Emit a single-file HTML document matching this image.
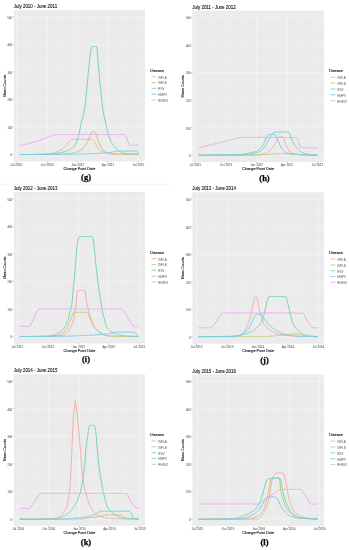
<!DOCTYPE html>
<html><head><meta charset="utf-8"><style>
html,body{margin:0;padding:0;background:#fff;}
body{width:349px;height:550px;overflow:hidden;}
svg{display:block;filter:blur(0.5px);font-family:"Liberation Sans", sans-serif;}
</style></head><body>
<svg width="349" height="550" viewBox="0 0 349 550">
<rect width="349" height="550" fill="#fff"/>
<line x1="0" x2="171" y1="184.3" y2="184.3" stroke="#EDEDED" stroke-width="0.6"/>
<g>
<text transform="translate(13.80 8.02) rotate(0.01)" font-size="4.45" fill="#111" stroke="#111" style="stroke-width:0.1px">July 2010 - June 2011</text>
<rect x="13.90" y="10.00" width="131.10" height="151.40" fill="#EBEBEB"/>
<line x1="13.90" x2="145.00" y1="140.74" y2="140.74" stroke="#fff" stroke-width="0.2"/>
<line x1="13.90" x2="145.00" y1="113.20" y2="113.20" stroke="#fff" stroke-width="0.2"/>
<line x1="13.90" x2="145.00" y1="85.67" y2="85.67" stroke="#fff" stroke-width="0.2"/>
<line x1="13.90" x2="145.00" y1="58.15" y2="58.15" stroke="#fff" stroke-width="0.2"/>
<line x1="13.90" x2="145.00" y1="30.62" y2="30.62" stroke="#fff" stroke-width="0.2"/>
<line x1="31.75" x2="31.75" y1="10.00" y2="161.40" stroke="#fff" stroke-width="0.2"/>
<line x1="62.45" x2="62.45" y1="10.00" y2="161.40" stroke="#fff" stroke-width="0.2"/>
<line x1="92.82" x2="92.82" y1="10.00" y2="161.40" stroke="#fff" stroke-width="0.2"/>
<line x1="123.02" x2="123.02" y1="10.00" y2="161.40" stroke="#fff" stroke-width="0.2"/>
<line x1="13.90" x2="145.00" y1="154.50" y2="154.50" stroke="#fff" stroke-width="0.35"/>
<line x1="13.90" x2="145.00" y1="126.97" y2="126.97" stroke="#fff" stroke-width="0.35"/>
<line x1="13.90" x2="145.00" y1="99.44" y2="99.44" stroke="#fff" stroke-width="0.35"/>
<line x1="13.90" x2="145.00" y1="71.91" y2="71.91" stroke="#fff" stroke-width="0.35"/>
<line x1="13.90" x2="145.00" y1="44.38" y2="44.38" stroke="#fff" stroke-width="0.35"/>
<line x1="13.90" x2="145.00" y1="16.85" y2="16.85" stroke="#fff" stroke-width="0.35"/>
<line x1="16.40" x2="16.40" y1="10.00" y2="161.40" stroke="#fff" stroke-width="0.35"/>
<line x1="47.10" x2="47.10" y1="10.00" y2="161.40" stroke="#fff" stroke-width="0.35"/>
<line x1="77.80" x2="77.80" y1="10.00" y2="161.40" stroke="#fff" stroke-width="0.35"/>
<line x1="107.83" x2="107.83" y1="10.00" y2="161.40" stroke="#fff" stroke-width="0.35"/>
<line x1="138.20" x2="138.20" y1="10.00" y2="161.40" stroke="#fff" stroke-width="0.35"/>
<path d="M19.7 154.5 L20.4 154.5 L21.0 154.5 L21.6 154.5 L22.2 154.5 L22.8 154.5 L23.4 154.5 L24.0 154.5 L24.7 154.5 L25.3 154.5 L25.9 154.5 L26.5 154.5 L27.1 154.5 L27.7 154.5 L28.3 154.5 L28.9 154.5 L29.6 154.5 L30.2 154.5 L30.8 154.5 L31.4 154.5 L32.0 154.5 L32.6 154.5 L33.2 154.4 L33.9 154.4 L34.5 154.4 L35.1 154.4 L35.7 154.4 L36.3 154.4 L36.9 154.4 L37.5 154.4 L38.2 154.4 L38.8 154.4 L39.4 154.4 L40.0 154.4 L40.6 154.4 L41.2 154.4 L41.8 154.4 L42.4 154.3 L43.0 154.3 L43.6 154.3 L44.2 154.2 L44.9 154.2 L45.5 154.1 L46.1 154.1 L46.7 154.0 L47.3 154.0 L47.9 153.9 L48.5 153.9 L49.1 153.8 L49.7 153.7 L50.4 153.6 L51.0 153.5 L51.6 153.4 L52.3 153.2 L52.9 153.1 L53.6 152.9 L54.2 152.7 L54.8 152.5 L55.5 152.3 L56.1 152.1 L56.7 151.9 L57.3 151.7 L57.9 151.4 L58.5 151.1 L59.1 150.9 L59.7 150.5 L60.3 150.2 L60.9 149.9 L61.5 149.5 L62.1 149.1 L62.8 148.6 L63.5 148.0 L64.2 147.3 L64.8 146.6 L65.5 145.9 L66.2 145.1 L66.8 144.3 L67.4 143.4 L68.0 142.5 L68.6 141.7 L69.2 141.1 L69.8 140.7 L70.4 140.3 L71.0 139.9 L71.6 139.7 L72.2 139.5 L73.1 139.4 L74.0 139.3 L74.6 139.3 L75.2 139.3 L75.9 139.3 L76.5 139.3 L77.1 139.3 L77.7 139.3 L78.4 139.3 L79.0 139.3 L79.6 139.3 L80.2 139.3 L80.8 139.3 L81.5 139.3 L82.1 139.3 L82.7 139.3 L83.3 139.3 L84.0 139.3 L84.6 139.3 L85.2 139.3 L85.8 139.3 L86.4 139.3 L87.1 139.3 L87.7 139.3 L88.3 139.3 L88.9 139.3 L89.6 139.3 L90.2 139.3 L90.8 139.3 L91.5 139.5 L92.1 139.9 L92.8 140.5 L93.4 141.3 L94.1 142.0 L94.7 142.8 L95.3 143.7 L95.9 144.7 L96.5 145.7 L97.1 146.6 L97.7 147.4 L98.3 148.2 L98.9 148.9 L99.5 149.6 L100.1 150.1 L100.8 150.5 L101.4 150.9 L102.1 151.2 L102.8 151.5 L103.4 151.8 L104.1 152.1 L104.8 152.4 L105.4 152.8 L106.0 153.1 L106.7 153.4 L107.3 153.6 L108.0 153.8 L108.6 153.9 L109.3 154.0 L109.9 154.1 L110.5 154.1 L111.2 154.2 L111.8 154.3 L112.5 154.3 L113.1 154.3 L113.7 154.4 L114.4 154.4 L115.0 154.4 L115.6 154.4 L116.2 154.4 L116.8 154.4 L117.4 154.4 L118.0 154.4 L118.6 154.4 L119.2 154.4 L119.8 154.4 L120.4 154.4 L121.0 154.4 L121.6 154.4 L122.2 154.4 L122.9 154.5 L123.5 154.5 L124.1 154.5 L124.7 154.5 L125.3 154.5 L125.9 154.5 L126.5 154.5 L127.1 154.5 L127.7 154.5 L128.3 154.5 L128.9 154.5 L129.5 154.5 L130.1 154.5 L130.7 154.5 L131.3 154.5 L131.9 154.5 L132.5 154.5 L133.1 154.5 L133.7 154.5 L134.3 154.5 L134.9 154.5 L135.5 154.5 L136.1 154.5 L136.7 154.5 L137.4 154.5 L138.0 154.5 L138.6 154.5" fill="none" stroke="#F2B0AC" stroke-width="1.0" stroke-linejoin="round"/>
<path d="M19.7 154.5 L20.3 154.5 L20.9 154.5 L21.5 154.5 L22.1 154.5 L22.7 154.5 L23.3 154.5 L23.9 154.5 L24.5 154.5 L25.1 154.5 L25.7 154.5 L26.3 154.5 L27.0 154.5 L27.6 154.5 L28.2 154.5 L28.8 154.5 L29.4 154.5 L30.0 154.5 L30.6 154.5 L31.2 154.5 L31.8 154.5 L32.4 154.5 L33.0 154.5 L33.6 154.5 L34.2 154.4 L34.8 154.4 L35.4 154.4 L36.0 154.4 L36.6 154.4 L37.2 154.4 L37.8 154.4 L38.4 154.4 L39.0 154.4 L39.6 154.4 L40.2 154.4 L40.8 154.4 L41.4 154.4 L42.0 154.4 L42.6 154.4 L43.2 154.4 L43.8 154.4 L44.4 154.4 L45.0 154.4 L45.6 154.4 L46.2 154.4 L46.8 154.4 L47.4 154.4 L48.0 154.4 L48.6 154.4 L49.2 154.4 L49.8 154.4 L50.4 154.4 L51.0 154.4 L51.6 154.4 L52.2 154.4 L52.8 154.4 L53.4 154.4 L54.0 154.4 L54.6 154.4 L55.2 154.3 L55.8 154.3 L56.4 154.3 L57.0 154.3 L57.6 154.3 L58.2 154.3 L58.8 154.3 L59.4 154.3 L60.0 154.3 L60.6 154.3 L61.2 154.3 L61.9 154.3 L62.5 154.2 L63.1 154.2 L63.8 154.2 L64.4 154.1 L65.0 154.1 L65.6 154.0 L66.2 154.0 L66.9 153.9 L67.5 153.9 L68.1 153.8 L68.8 153.7 L69.4 153.7 L70.0 153.6 L70.6 153.5 L71.2 153.4 L71.9 153.3 L72.5 153.2 L73.1 153.1 L73.8 152.9 L74.4 152.8 L75.0 152.6 L75.6 152.4 L76.2 152.2 L76.9 152.0 L77.5 151.8 L78.1 151.5 L78.8 151.2 L79.4 150.9 L80.0 150.6 L80.6 150.2 L81.2 149.8 L81.9 149.3 L82.5 148.8 L83.1 148.2 L83.8 147.5 L84.4 146.8 L85.0 146.1 L85.6 145.3 L86.2 144.4 L86.8 143.3 L87.4 142.2 L88.0 141.0 L88.7 139.5 L89.3 137.7 L90.0 136.0 L90.8 134.0 L91.5 132.5 L92.2 131.8 L93.0 131.5 L93.7 131.6 L94.3 132.0 L95.0 132.5 L95.8 133.9 L96.6 136.0 L97.3 137.8 L97.9 139.7 L98.6 141.5 L99.2 143.0 L99.8 144.5 L100.5 145.8 L101.1 147.0 L101.7 148.0 L102.3 148.9 L102.9 149.7 L103.5 150.4 L104.1 150.9 L104.8 151.3 L105.4 151.7 L106.1 152.0 L106.8 152.2 L107.4 152.4 L108.1 152.6 L108.7 152.8 L109.4 152.9 L110.0 153.1 L110.6 153.2 L111.2 153.3 L111.9 153.4 L112.5 153.6 L113.1 153.6 L113.7 153.7 L114.4 153.8 L115.0 153.8 L115.6 153.8 L116.2 153.8 L116.8 153.9 L117.4 153.9 L118.0 153.9 L118.6 153.9 L119.2 153.9 L119.8 153.9 L120.4 154.0 L121.0 154.0 L121.6 154.0 L122.2 154.0 L122.9 154.0 L123.5 154.0 L124.1 154.0 L124.7 154.0 L125.3 154.0 L125.9 154.0 L126.5 154.1 L127.1 154.1 L127.7 154.1 L128.3 154.1 L128.9 154.1 L129.5 154.1 L130.1 154.1 L130.7 154.1 L131.3 154.1 L131.9 154.1 L132.5 154.1 L133.1 154.1 L133.7 154.1 L134.3 154.1 L134.9 154.1 L135.5 154.2 L136.1 154.2 L136.7 154.2 L137.4 154.2 L138.0 154.2 L138.6 154.2" fill="none" stroke="#C7C876" stroke-width="1.0" stroke-linejoin="round"/>
<path d="M19.7 154.5 L20.3 154.5 L20.9 154.5 L21.5 154.5 L22.1 154.5 L22.7 154.5 L23.3 154.5 L23.9 154.5 L24.6 154.5 L25.2 154.5 L25.8 154.5 L26.4 154.5 L27.0 154.5 L27.6 154.5 L28.2 154.5 L28.8 154.5 L29.4 154.5 L30.0 154.5 L30.6 154.5 L31.2 154.5 L31.8 154.5 L32.4 154.5 L33.0 154.5 L33.6 154.5 L34.2 154.5 L34.8 154.5 L35.4 154.5 L36.0 154.5 L36.6 154.4 L37.2 154.4 L37.8 154.4 L38.4 154.4 L39.0 154.4 L39.6 154.4 L40.2 154.4 L40.8 154.4 L41.4 154.4 L42.0 154.4 L42.6 154.4 L43.2 154.4 L43.8 154.4 L44.4 154.4 L45.0 154.4 L45.6 154.4 L46.2 154.4 L46.9 154.4 L47.5 154.3 L48.1 154.3 L48.7 154.3 L49.4 154.2 L50.0 154.2 L50.6 154.1 L51.2 154.0 L51.9 154.0 L52.5 153.9 L53.1 153.8 L53.7 153.8 L54.4 153.7 L55.0 153.6 L55.6 153.5 L56.2 153.5 L56.9 153.4 L57.5 153.3 L58.1 153.2 L58.7 153.1 L59.3 153.0 L60.0 152.9 L60.6 152.7 L61.2 152.6 L61.8 152.4 L62.5 152.3 L63.1 152.1 L63.7 151.9 L64.3 151.7 L65.0 151.5 L65.6 151.3 L66.2 151.1 L66.8 150.9 L67.4 150.7 L68.0 150.4 L68.6 150.2 L69.2 149.9 L69.8 149.6 L70.4 149.3 L71.0 148.9 L71.6 148.5 L72.2 148.1 L72.9 147.6 L73.5 146.9 L74.2 146.2 L74.9 145.3 L75.5 144.3 L76.2 143.1 L76.8 141.7 L77.4 139.7 L78.0 137.4 L78.6 135.0 L79.2 132.5 L80.0 129.2 L80.7 125.5 L81.5 122.0 L82.2 119.1 L83.0 116.4 L83.7 113.5 L84.4 110.0 L85.1 105.7 L85.7 100.2 L86.4 93.8 L87.0 86.8 L87.7 79.6 L88.3 72.5 L89.0 65.7 L89.6 59.6 L90.3 54.5 L90.9 50.3 L91.5 47.5 L91.8 46.8 L92.2 46.5 L92.9 46.5 L93.5 46.5 L94.2 46.5 L94.8 46.5 L95.5 46.5 L96.1 46.5 L96.8 46.5 L97.2 49.5 L97.5 54.5 L98.1 61.3 L98.7 68.2 L99.3 75.2 L99.9 82.0 L100.6 88.6 L101.2 94.9 L101.8 100.6 L102.4 105.7 L103.0 110.0 L103.7 114.2 L104.5 117.7 L105.2 121.0 L105.8 123.9 L106.5 126.7 L107.1 129.4 L107.7 132.0 L108.6 135.4 L109.4 138.2 L110.1 139.8 L110.8 141.2 L111.5 142.5 L112.2 143.5 L112.9 144.5 L113.5 145.3 L114.2 146.2 L114.8 146.9 L115.5 147.7 L116.1 148.4 L116.7 149.0 L117.4 149.6 L118.0 150.1 L118.7 150.6 L119.3 151.0 L120.0 151.4 L120.6 151.7 L121.2 152.0 L121.9 152.3 L122.5 152.6 L123.2 152.9 L123.8 153.1 L124.5 153.3 L125.1 153.4 L125.8 153.5 L126.4 153.6 L127.0 153.6 L127.6 153.7 L128.2 153.7 L128.8 153.8 L129.4 153.8 L130.1 153.8 L130.7 153.9 L131.3 153.9 L131.9 153.9 L132.5 153.9 L133.1 154.0 L133.7 154.0 L134.3 154.0 L134.9 154.0 L135.5 154.1 L136.1 154.1 L136.7 154.1 L137.3 154.1 L138.0 154.2 L138.6 154.2" fill="none" stroke="#76D5B4" stroke-width="1.0" stroke-linejoin="round"/>
<path d="M19.7 154.5 L20.3 154.5 L21.0 154.5 L21.6 154.5 L22.2 154.5 L22.8 154.5 L23.4 154.5 L24.0 154.5 L24.6 154.5 L25.2 154.5 L25.8 154.5 L26.4 154.5 L27.0 154.5 L27.6 154.5 L28.2 154.5 L28.8 154.5 L29.4 154.5 L30.0 154.5 L30.6 154.5 L31.2 154.5 L31.9 154.5 L32.5 154.5 L33.1 154.5 L33.7 154.5 L34.3 154.5 L34.9 154.5 L35.5 154.4 L36.1 154.4 L36.7 154.4 L37.3 154.4 L37.9 154.4 L38.5 154.4 L39.1 154.4 L39.7 154.4 L40.3 154.4 L40.9 154.4 L41.5 154.4 L42.1 154.4 L42.8 154.4 L43.4 154.4 L44.0 154.4 L44.6 154.4 L45.2 154.4 L45.8 154.4 L46.4 154.4 L47.0 154.4 L47.6 154.4 L48.2 154.4 L48.8 154.4 L49.4 154.4 L50.0 154.4 L50.6 154.4 L51.2 154.4 L51.8 154.4 L52.4 154.4 L53.0 154.4 L53.7 154.4 L54.3 154.4 L54.9 154.4 L55.5 154.4 L56.1 154.4 L56.7 154.4 L57.3 154.4 L57.9 154.4 L58.5 154.4 L59.1 154.4 L59.7 154.4 L60.3 154.4 L60.9 154.4 L61.5 154.4 L62.1 154.4 L62.7 154.3 L63.3 154.3 L63.9 154.3 L64.6 154.3 L65.2 154.3 L65.8 154.3 L66.4 154.3 L67.0 154.3 L67.6 154.3 L68.2 154.3 L68.8 154.3 L69.4 154.3 L70.0 154.3 L70.6 154.3 L71.2 154.3 L71.8 154.3 L72.4 154.3 L73.0 154.3 L73.6 154.3 L74.2 154.2 L74.8 154.2 L75.5 154.2 L76.1 154.2 L76.7 154.2 L77.3 154.2 L77.9 154.2 L78.5 154.2 L79.1 154.1 L79.7 154.1 L80.3 154.1 L80.9 154.1 L81.5 154.1 L82.1 154.1 L82.7 154.0 L83.3 154.0 L83.9 154.0 L84.5 154.0 L85.2 154.0 L85.8 153.9 L86.4 153.9 L87.0 153.9 L87.6 153.9 L88.2 153.9 L88.8 153.8 L89.4 153.8 L90.0 153.8 L90.6 153.8 L91.2 153.8 L91.9 153.7 L92.5 153.7 L93.1 153.7 L93.8 153.6 L94.4 153.6 L95.0 153.6 L95.6 153.6 L96.2 153.5 L96.9 153.5 L97.5 153.4 L98.1 153.4 L98.8 153.4 L99.4 153.3 L100.0 153.3 L100.6 153.3 L101.2 153.2 L101.9 153.2 L102.5 153.1 L103.1 153.1 L103.8 153.1 L104.4 153.0 L105.0 153.0 L105.6 152.9 L106.2 152.9 L106.9 152.8 L107.5 152.8 L108.1 152.7 L108.8 152.6 L109.4 152.6 L110.0 152.5 L110.6 152.4 L111.2 152.3 L111.9 152.2 L112.5 152.0 L113.1 151.8 L113.7 151.7 L114.3 151.5 L114.9 151.4 L115.6 151.3 L116.2 151.2 L116.8 151.2 L117.4 151.2 L118.0 151.2 L118.6 151.2 L119.2 151.2 L119.8 151.1 L120.4 151.1 L121.0 151.1 L121.6 151.1 L122.3 151.1 L122.9 151.1 L123.5 151.1 L124.1 151.1 L124.7 151.1 L125.3 151.1 L125.9 151.1 L126.5 151.0 L127.1 151.0 L127.7 151.0 L128.3 151.0 L128.9 151.0 L129.5 151.0 L130.1 151.0 L130.7 151.0 L131.3 151.0 L131.9 151.0 L132.6 151.0 L133.2 151.0 L133.8 151.0 L134.4 151.0 L135.0 151.0 L135.6 151.0 L136.2 151.0 L136.8 151.0 L137.4 151.0 L138.0 152.2 L138.6 154.3" fill="none" stroke="#76CEF0" stroke-width="1.0" stroke-linejoin="round"/>
<path d="M19.7 145.6 L20.3 145.5 L20.9 145.3 L21.6 145.2 L22.2 145.0 L22.8 144.9 L23.4 144.8 L24.0 144.6 L24.6 144.5 L25.2 144.4 L25.8 144.2 L26.4 144.1 L27.0 144.0 L27.6 143.8 L28.2 143.7 L28.8 143.5 L29.4 143.4 L30.0 143.2 L30.6 143.0 L31.2 142.9 L31.9 142.7 L32.5 142.5 L33.1 142.3 L33.8 142.1 L34.4 141.9 L35.0 141.7 L35.6 141.5 L36.2 141.3 L36.9 141.1 L37.5 140.9 L38.1 140.7 L38.8 140.5 L39.4 140.3 L40.0 140.1 L40.6 139.9 L41.2 139.7 L41.9 139.5 L42.5 139.2 L43.1 139.0 L43.8 138.8 L44.4 138.6 L45.0 138.4 L45.6 138.1 L46.2 137.9 L46.9 137.7 L47.5 137.4 L48.1 137.2 L48.8 137.0 L49.4 136.7 L50.0 136.5 L50.6 136.3 L51.3 136.0 L51.9 135.8 L52.5 135.5 L53.2 135.3 L53.8 135.0 L54.5 134.8 L55.1 134.5 L55.7 134.5 L56.3 134.5 L56.9 134.5 L57.5 134.5 L58.1 134.5 L58.7 134.5 L59.3 134.5 L59.9 134.5 L60.5 134.5 L61.1 134.5 L61.7 134.5 L62.3 134.5 L62.9 134.5 L63.5 134.5 L64.2 134.5 L64.8 134.5 L65.4 134.5 L66.0 134.5 L66.6 134.5 L67.2 134.5 L67.8 134.5 L68.4 134.5 L69.0 134.5 L69.6 134.5 L70.2 134.5 L70.8 134.5 L71.4 134.5 L72.0 134.5 L72.6 134.5 L73.2 134.5 L73.8 134.5 L74.4 134.5 L75.0 134.5 L75.6 134.5 L76.2 134.5 L76.8 134.5 L77.4 134.5 L78.0 134.5 L78.6 134.5 L79.2 134.5 L79.8 134.5 L80.4 134.5 L81.0 134.5 L81.7 134.5 L82.3 134.5 L82.9 134.5 L83.5 134.5 L84.1 134.5 L84.7 134.5 L85.3 134.5 L85.9 134.5 L86.5 134.5 L87.1 134.5 L87.7 134.5 L88.3 134.5 L88.9 134.5 L89.5 134.5 L90.1 134.5 L90.7 134.5 L91.3 134.5 L91.9 134.5 L92.5 134.5 L93.1 134.5 L93.7 134.5 L94.3 134.5 L94.9 134.5 L95.5 134.5 L96.1 134.5 L96.7 134.5 L97.3 134.5 L97.9 134.5 L98.6 134.5 L99.2 134.5 L99.8 134.5 L100.4 134.5 L101.0 134.5 L101.6 134.5 L102.2 134.5 L102.8 134.5 L103.4 134.5 L104.0 134.5 L104.6 134.5 L105.2 134.5 L105.8 134.5 L106.4 134.5 L107.0 134.5 L107.6 134.5 L108.2 134.5 L108.8 134.5 L109.4 134.5 L110.0 134.5 L110.6 134.5 L111.2 134.5 L111.8 134.5 L112.4 134.5 L113.0 134.5 L113.6 134.5 L114.2 134.5 L114.8 134.5 L115.4 134.5 L116.1 134.5 L116.7 134.5 L117.3 134.5 L117.9 134.5 L118.5 134.5 L119.1 134.5 L119.7 134.5 L120.3 134.5 L120.9 134.5 L121.5 134.5 L122.1 134.5 L122.7 134.5 L123.3 134.5 L123.9 134.5 L124.5 134.5 L125.0 134.8 L125.5 135.3 L126.1 136.3 L126.8 137.9 L127.4 139.7 L128.0 141.5 L128.7 143.1 L129.3 144.2 L129.8 144.8 L130.3 145.1 L130.9 145.1 L131.6 145.1 L132.2 145.1 L132.8 145.1 L133.5 145.1 L134.1 145.1 L134.7 145.1 L135.4 145.1 L136.0 145.1 L136.7 145.1 L137.3 145.1 L137.9 145.1 L138.6 145.1" fill="none" stroke="#E9ABEF" stroke-width="1.0" stroke-linejoin="round"/>
<line x1="12.50" x2="13.90" y1="154.50" y2="154.50" stroke="#333" stroke-width="0.3"/>
<text transform="translate(11.90 156.02) rotate(0.01)" font-size="2.6" fill="#707070" stroke="#707070" style="stroke-width:0.08px" text-anchor="end">0</text>
<line x1="12.50" x2="13.90" y1="126.97" y2="126.97" stroke="#333" stroke-width="0.3"/>
<text transform="translate(11.90 129.02) rotate(0.01)" font-size="2.6" fill="#707070" stroke="#707070" style="stroke-width:0.08px" text-anchor="end">100</text>
<line x1="12.50" x2="13.90" y1="99.44" y2="99.44" stroke="#333" stroke-width="0.3"/>
<text transform="translate(11.90 101.02) rotate(0.01)" font-size="2.6" fill="#707070" stroke="#707070" style="stroke-width:0.08px" text-anchor="end">200</text>
<line x1="12.50" x2="13.90" y1="71.91" y2="71.91" stroke="#333" stroke-width="0.3"/>
<text transform="translate(11.90 74.02) rotate(0.01)" font-size="2.6" fill="#707070" stroke="#707070" style="stroke-width:0.08px" text-anchor="end">300</text>
<line x1="12.50" x2="13.90" y1="44.38" y2="44.38" stroke="#333" stroke-width="0.3"/>
<text transform="translate(11.90 46.02) rotate(0.01)" font-size="2.6" fill="#707070" stroke="#707070" style="stroke-width:0.08px" text-anchor="end">400</text>
<line x1="12.50" x2="13.90" y1="16.85" y2="16.85" stroke="#333" stroke-width="0.3"/>
<text transform="translate(11.90 19.02) rotate(0.01)" font-size="2.6" fill="#707070" stroke="#707070" style="stroke-width:0.08px" text-anchor="end">500</text>
<line x1="16.40" x2="16.40" y1="161.40" y2="162.70" stroke="#333" stroke-width="0.3"/>
<text transform="translate(16.40 166.02) rotate(0.01)" font-size="3.1" fill="#707070" stroke="#707070" style="stroke-width:0.08px" text-anchor="middle">Jul 2010</text>
<line x1="47.10" x2="47.10" y1="161.40" y2="162.70" stroke="#333" stroke-width="0.3"/>
<text transform="translate(47.10 166.02) rotate(0.01)" font-size="3.1" fill="#707070" stroke="#707070" style="stroke-width:0.08px" text-anchor="middle">Oct 2010</text>
<line x1="77.80" x2="77.80" y1="161.40" y2="162.70" stroke="#333" stroke-width="0.3"/>
<text transform="translate(77.80 166.02) rotate(0.01)" font-size="3.1" fill="#707070" stroke="#707070" style="stroke-width:0.08px" text-anchor="middle">Jan 2011</text>
<line x1="107.83" x2="107.83" y1="161.40" y2="162.70" stroke="#333" stroke-width="0.3"/>
<text transform="translate(107.83 166.02) rotate(0.01)" font-size="3.1" fill="#707070" stroke="#707070" style="stroke-width:0.08px" text-anchor="middle">Apr 2011</text>
<line x1="138.20" x2="138.20" y1="161.40" y2="162.70" stroke="#333" stroke-width="0.3"/>
<text transform="translate(138.20 166.02) rotate(0.01)" font-size="3.1" fill="#707070" stroke="#707070" style="stroke-width:0.08px" text-anchor="middle">Jul 2011</text>
<text transform="translate(79.45 170.02) rotate(0.01)" font-size="3.75" fill="#000" stroke="#000" style="stroke-width:0.08px" text-anchor="middle">Change Point Date</text>
<text transform="translate(6.02 85.70) rotate(-89.99)" font-size="3.75" fill="#000" stroke="#000" style="stroke-width:0.08px" text-anchor="middle">Mean Counts</text>
<text transform="translate(150.20 72.02) rotate(0.01)" font-size="3.75" fill="#000" stroke="#000" style="stroke-width:0.08px">Disease</text>
<line x1="151.50" x2="156.30" y1="76.70" y2="76.70" stroke="#F0BFBB" stroke-width="1.1"/>
<text transform="translate(158.30 79.02) rotate(0.01)" font-size="3.0" fill="#555">INFLA</text>
<line x1="151.50" x2="156.30" y1="82.53" y2="82.53" stroke="#D0D092" stroke-width="1.1"/>
<text transform="translate(158.30 84.02) rotate(0.01)" font-size="3.0" fill="#555">INFLB</text>
<line x1="151.50" x2="156.30" y1="88.36" y2="88.36" stroke="#92DAC1" stroke-width="1.1"/>
<text transform="translate(158.30 90.02) rotate(0.01)" font-size="3.0" fill="#555">RSV</text>
<line x1="151.50" x2="156.30" y1="94.19" y2="94.19" stroke="#92D5EF" stroke-width="1.1"/>
<text transform="translate(158.30 96.02) rotate(0.01)" font-size="3.0" fill="#555">HMPV</text>
<line x1="151.50" x2="156.30" y1="100.02" y2="100.02" stroke="#E9BAEE" stroke-width="1.1"/>
<text transform="translate(158.30 102.02) rotate(0.01)" font-size="3.0" fill="#555">RHINO</text>
<text transform="translate(86.00 180.02) rotate(0)" font-size="8.5" fill="#000" stroke="#000" style="stroke-width:0.25px" text-anchor="middle" font-family="Liberation Serif, serif" font-weight="bold">(g)</text>
</g>
<g>
<text transform="translate(192.30 9.02) rotate(0.01)" font-size="4.45" fill="#111" stroke="#111" style="stroke-width:0.1px">July 2011 - June 2012</text>
<rect x="192.40" y="10.60" width="131.60" height="151.40" fill="#EBEBEB"/>
<line x1="192.40" x2="324.00" y1="141.34" y2="141.34" stroke="#fff" stroke-width="0.2"/>
<line x1="192.40" x2="324.00" y1="113.80" y2="113.80" stroke="#fff" stroke-width="0.2"/>
<line x1="192.40" x2="324.00" y1="86.27" y2="86.27" stroke="#fff" stroke-width="0.2"/>
<line x1="192.40" x2="324.00" y1="58.75" y2="58.75" stroke="#fff" stroke-width="0.2"/>
<line x1="192.40" x2="324.00" y1="31.22" y2="31.22" stroke="#fff" stroke-width="0.2"/>
<line x1="210.65" x2="210.65" y1="10.60" y2="162.00" stroke="#fff" stroke-width="0.2"/>
<line x1="241.35" x2="241.35" y1="10.60" y2="162.00" stroke="#fff" stroke-width="0.2"/>
<line x1="271.88" x2="271.88" y1="10.60" y2="162.00" stroke="#fff" stroke-width="0.2"/>
<line x1="302.25" x2="302.25" y1="10.60" y2="162.00" stroke="#fff" stroke-width="0.2"/>
<line x1="192.40" x2="324.00" y1="155.10" y2="155.10" stroke="#fff" stroke-width="0.35"/>
<line x1="192.40" x2="324.00" y1="127.57" y2="127.57" stroke="#fff" stroke-width="0.35"/>
<line x1="192.40" x2="324.00" y1="100.04" y2="100.04" stroke="#fff" stroke-width="0.35"/>
<line x1="192.40" x2="324.00" y1="72.51" y2="72.51" stroke="#fff" stroke-width="0.35"/>
<line x1="192.40" x2="324.00" y1="44.98" y2="44.98" stroke="#fff" stroke-width="0.35"/>
<line x1="192.40" x2="324.00" y1="17.45" y2="17.45" stroke="#fff" stroke-width="0.35"/>
<line x1="195.30" x2="195.30" y1="10.60" y2="162.00" stroke="#fff" stroke-width="0.35"/>
<line x1="226.00" x2="226.00" y1="10.60" y2="162.00" stroke="#fff" stroke-width="0.35"/>
<line x1="256.70" x2="256.70" y1="10.60" y2="162.00" stroke="#fff" stroke-width="0.35"/>
<line x1="287.07" x2="287.07" y1="10.60" y2="162.00" stroke="#fff" stroke-width="0.35"/>
<line x1="317.43" x2="317.43" y1="10.60" y2="162.00" stroke="#fff" stroke-width="0.35"/>
<path d="M198.5 155.2 L199.1 155.2 L199.7 155.2 L200.3 155.2 L200.9 155.2 L201.5 155.2 L202.1 155.2 L202.7 155.2 L203.3 155.2 L203.9 155.2 L204.5 155.2 L205.1 155.2 L205.7 155.2 L206.3 155.2 L206.9 155.2 L207.5 155.2 L208.1 155.2 L208.7 155.2 L209.3 155.2 L209.9 155.2 L210.5 155.2 L211.1 155.2 L211.7 155.2 L212.3 155.2 L212.9 155.2 L213.5 155.2 L214.1 155.2 L214.7 155.2 L215.3 155.2 L215.9 155.2 L216.5 155.2 L217.1 155.2 L217.7 155.2 L218.3 155.2 L218.9 155.2 L219.5 155.2 L220.1 155.2 L220.7 155.2 L221.3 155.1 L221.9 155.1 L222.5 155.1 L223.1 155.1 L223.7 155.1 L224.3 155.1 L224.9 155.1 L225.5 155.1 L226.1 155.1 L226.8 155.1 L227.4 155.1 L228.0 155.1 L228.6 155.1 L229.2 155.1 L229.8 155.1 L230.4 155.1 L231.0 155.1 L231.6 155.1 L232.2 155.1 L232.8 155.1 L233.4 155.1 L234.0 155.1 L234.6 155.1 L235.2 155.1 L235.8 155.1 L236.4 155.1 L237.0 155.1 L237.6 155.1 L238.2 155.1 L238.8 155.1 L239.4 155.1 L240.0 155.1 L240.6 155.1 L241.2 155.1 L241.8 155.1 L242.4 155.1 L243.0 155.1 L243.6 155.1 L244.2 155.1 L244.8 155.1 L245.4 155.1 L246.0 155.1 L246.6 155.1 L247.2 155.1 L247.8 155.1 L248.4 155.1 L249.0 155.0 L249.6 155.0 L250.2 155.0 L250.8 155.0 L251.4 155.0 L252.0 155.0 L252.6 155.0 L253.2 155.0 L253.8 155.0 L254.4 155.0 L255.0 155.0 L255.6 155.0 L256.2 154.9 L256.8 154.9 L257.4 154.8 L258.0 154.7 L258.6 154.6 L259.3 154.5 L259.9 154.4 L260.5 154.3 L261.1 154.2 L261.7 154.1 L262.3 153.9 L262.9 153.8 L263.5 153.7 L264.1 153.5 L264.7 153.4 L265.4 153.2 L266.0 153.0 L266.6 152.8 L267.2 152.5 L267.8 152.2 L268.4 151.7 L269.0 151.2 L269.7 150.6 L270.3 149.9 L270.9 149.3 L271.5 148.6 L272.1 147.9 L272.8 147.1 L273.5 146.2 L274.1 145.2 L275.0 143.6 L275.8 141.8 L276.6 139.9 L277.5 138.3 L278.4 137.0 L279.2 136.4 L279.8 136.4 L280.4 136.4 L281.1 136.4 L281.7 136.4 L282.3 136.4 L283.0 137.2 L283.8 139.0 L284.5 141.2 L285.2 143.2 L285.8 144.6 L286.4 146.0 L287.1 147.3 L287.7 148.4 L288.4 149.4 L289.0 150.3 L289.6 151.1 L290.3 151.9 L291.0 152.5 L291.6 152.9 L292.2 153.2 L292.9 153.5 L293.6 153.7 L294.2 154.0 L294.9 154.2 L295.5 154.3 L296.2 154.4 L296.8 154.5 L297.4 154.5 L298.0 154.6 L298.6 154.6 L299.3 154.7 L299.9 154.7 L300.5 154.7 L301.1 154.8 L301.7 154.8 L302.3 154.8 L302.9 154.9 L303.6 154.9 L304.2 154.9 L304.8 154.9 L305.4 155.0 L306.0 155.0 L306.6 155.0 L307.2 155.0 L307.9 155.0 L308.5 155.0 L309.1 155.1 L309.7 155.1 L310.3 155.1 L310.9 155.1 L311.6 155.1 L312.2 155.1 L312.8 155.1 L313.4 155.2 L314.0 155.2 L314.6 155.2 L315.2 155.2 L315.9 155.2 L316.5 155.3 L317.1 155.3 L317.7 155.3" fill="none" stroke="#F2B0AC" stroke-width="1.0" stroke-linejoin="round"/>
<path d="M198.5 155.2 L199.1 155.2 L199.7 155.2 L200.3 155.2 L200.9 155.2 L201.5 155.2 L202.1 155.2 L202.7 155.2 L203.3 155.2 L204.0 155.2 L204.6 155.2 L205.2 155.2 L205.8 155.2 L206.4 155.2 L207.0 155.2 L207.6 155.2 L208.2 155.2 L208.8 155.2 L209.4 155.2 L210.0 155.2 L210.6 155.2 L211.2 155.2 L211.8 155.2 L212.4 155.2 L213.0 155.2 L213.6 155.2 L214.3 155.2 L214.9 155.2 L215.5 155.2 L216.1 155.2 L216.7 155.2 L217.3 155.2 L217.9 155.2 L218.5 155.2 L219.1 155.2 L219.7 155.2 L220.3 155.2 L220.9 155.2 L221.5 155.2 L222.1 155.2 L222.7 155.2 L223.3 155.2 L223.9 155.2 L224.6 155.2 L225.2 155.2 L225.8 155.2 L226.4 155.2 L227.0 155.2 L227.6 155.2 L228.2 155.2 L228.8 155.2 L229.4 155.2 L230.0 155.2 L230.6 155.2 L231.2 155.2 L231.8 155.2 L232.4 155.2 L233.0 155.2 L233.6 155.2 L234.2 155.1 L234.9 155.1 L235.5 155.1 L236.1 155.1 L236.7 155.1 L237.3 155.1 L237.9 155.1 L238.5 155.1 L239.1 155.1 L239.7 155.1 L240.3 155.1 L240.9 155.1 L241.5 155.1 L242.1 155.1 L242.7 155.1 L243.3 155.1 L243.9 155.1 L244.5 155.1 L245.2 155.1 L245.8 155.1 L246.4 155.1 L247.0 155.1 L247.6 155.1 L248.2 155.1 L248.8 155.1 L249.4 155.1 L250.0 155.1 L250.6 155.1 L251.2 155.1 L251.8 155.1 L252.4 155.1 L253.0 155.1 L253.6 155.0 L254.2 155.0 L254.8 155.0 L255.4 155.0 L256.0 155.0 L256.6 155.0 L257.2 154.9 L257.8 154.9 L258.4 154.9 L259.0 154.9 L259.6 154.8 L260.2 154.8 L260.8 154.8 L261.4 154.8 L262.0 154.7 L262.6 154.7 L263.2 154.7 L263.8 154.6 L264.4 154.6 L265.0 154.6 L265.6 154.6 L266.2 154.5 L266.8 154.5 L267.4 154.5 L268.0 154.5 L268.6 154.4 L269.2 154.4 L269.8 154.3 L270.4 154.3 L271.0 154.3 L271.6 154.2 L272.2 154.2 L272.8 154.1 L273.4 154.1 L274.0 154.1 L274.6 154.0 L275.2 154.0 L275.8 153.9 L276.4 153.9 L277.0 153.9 L277.6 153.8 L278.2 153.8 L278.8 153.8 L279.4 153.8 L280.0 153.8 L280.6 153.7 L281.2 153.7 L281.8 153.7 L282.4 153.7 L283.0 153.7 L283.6 153.7 L284.2 153.7 L284.8 153.7 L285.4 153.7 L286.0 153.7 L286.6 153.7 L287.2 153.8 L287.8 153.8 L288.4 153.8 L289.0 153.8 L289.6 153.8 L290.2 153.9 L290.8 153.9 L291.4 153.9 L292.0 153.9 L292.6 154.0 L293.2 154.0 L293.8 154.0 L294.4 154.1 L295.0 154.1 L295.6 154.1 L296.2 154.2 L296.8 154.2 L297.4 154.2 L298.1 154.3 L298.7 154.4 L299.3 154.4 L300.0 154.5 L300.6 154.6 L301.2 154.7 L301.8 154.7 L302.5 154.8 L303.1 154.9 L303.7 154.9 L304.4 155.0 L305.0 155.0 L305.6 155.0 L306.2 155.0 L306.8 155.1 L307.4 155.1 L308.0 155.1 L308.6 155.1 L309.2 155.1 L309.8 155.1 L310.4 155.2 L311.0 155.2 L311.7 155.2 L312.3 155.2 L312.9 155.2 L313.5 155.2 L314.1 155.2 L314.7 155.2 L315.3 155.2 L315.9 155.3 L316.5 155.3 L317.1 155.3 L317.7 155.3" fill="none" stroke="#C7C876" stroke-width="1.0" stroke-linejoin="round"/>
<path d="M198.5 155.2 L199.1 155.2 L199.7 155.2 L200.3 155.2 L200.9 155.2 L201.5 155.2 L202.1 155.2 L202.7 155.2 L203.3 155.2 L203.9 155.2 L204.5 155.2 L205.1 155.1 L205.7 155.1 L206.3 155.1 L206.9 155.1 L207.5 155.1 L208.1 155.1 L208.7 155.1 L209.3 155.1 L209.9 155.1 L210.5 155.1 L211.1 155.1 L211.7 155.1 L212.3 155.1 L212.9 155.1 L213.5 155.1 L214.1 155.1 L214.7 155.1 L215.3 155.1 L215.9 155.1 L216.5 155.1 L217.1 155.1 L217.7 155.1 L218.3 155.1 L218.9 155.1 L219.6 155.1 L220.2 155.0 L220.8 155.0 L221.4 155.0 L222.0 155.0 L222.6 155.0 L223.2 155.0 L223.8 155.0 L224.4 155.0 L225.0 155.0 L225.6 155.0 L226.2 155.0 L226.8 155.0 L227.4 155.0 L228.0 155.0 L228.6 155.0 L229.2 155.0 L229.8 155.0 L230.4 155.0 L231.0 154.9 L231.6 154.9 L232.2 154.9 L232.8 154.9 L233.4 154.9 L234.0 154.9 L234.6 154.9 L235.2 154.9 L235.8 154.9 L236.4 154.9 L237.0 154.9 L237.6 154.8 L238.2 154.8 L238.8 154.8 L239.4 154.8 L240.0 154.8 L240.6 154.8 L241.2 154.8 L241.9 154.7 L242.5 154.7 L243.1 154.7 L243.8 154.6 L244.4 154.6 L245.0 154.5 L245.6 154.5 L246.2 154.4 L246.9 154.3 L247.5 154.3 L248.1 154.2 L248.8 154.1 L249.4 154.1 L250.0 154.0 L250.6 153.9 L251.2 153.8 L251.9 153.7 L252.5 153.6 L253.1 153.4 L253.8 153.3 L254.4 153.2 L255.0 153.0 L255.7 152.8 L256.3 152.7 L257.0 152.5 L257.6 152.3 L258.3 152.1 L259.0 151.8 L259.6 151.5 L260.3 151.2 L260.9 150.8 L261.5 150.3 L262.1 149.8 L262.8 149.1 L263.4 148.4 L264.0 147.7 L264.6 146.9 L265.2 146.0 L265.9 144.9 L266.6 143.7 L267.2 142.6 L267.9 141.5 L268.6 140.4 L269.3 139.2 L269.9 138.0 L270.5 136.8 L271.1 135.7 L271.8 134.5 L272.5 133.4 L273.2 132.7 L273.9 132.4 L274.5 132.2 L275.1 132.1 L275.8 132.0 L276.4 132.0 L277.1 132.0 L277.7 132.0 L278.3 132.0 L278.9 132.0 L279.6 132.0 L280.2 132.0 L280.8 132.0 L281.5 132.0 L282.1 132.0 L282.7 132.0 L283.4 132.0 L284.0 132.0 L284.6 132.0 L285.2 132.0 L285.9 132.0 L286.5 132.0 L287.1 132.0 L287.8 132.0 L288.4 132.0 L289.0 132.6 L289.7 134.0 L290.4 135.7 L291.0 137.4 L291.6 138.9 L292.3 140.5 L292.9 141.9 L293.5 143.1 L294.2 144.2 L294.9 145.2 L295.5 146.1 L296.1 146.9 L296.8 147.7 L297.4 148.4 L298.1 149.1 L298.7 149.8 L299.4 150.4 L300.0 150.9 L300.6 151.4 L301.3 151.9 L301.9 152.2 L302.5 152.5 L303.1 152.7 L303.7 153.0 L304.3 153.2 L304.9 153.4 L305.5 153.6 L306.1 153.7 L306.7 153.9 L307.3 154.0 L307.9 154.2 L308.5 154.3 L309.1 154.4 L309.7 154.5 L310.3 154.6 L310.9 154.7 L311.5 154.7 L312.2 154.8 L312.8 154.9 L313.4 154.9 L314.0 155.0 L314.6 155.0 L315.2 155.1 L315.9 155.1 L316.5 155.2 L317.1 155.2 L317.7 155.3" fill="none" stroke="#76D5B4" stroke-width="1.0" stroke-linejoin="round"/>
<path d="M198.5 155.2 L199.1 155.2 L199.7 155.2 L200.3 155.2 L200.9 155.2 L201.5 155.2 L202.1 155.2 L202.7 155.2 L203.3 155.2 L204.0 155.2 L204.6 155.2 L205.2 155.2 L205.8 155.2 L206.4 155.2 L207.0 155.2 L207.6 155.2 L208.2 155.2 L208.8 155.1 L209.4 155.1 L210.0 155.1 L210.6 155.1 L211.2 155.1 L211.8 155.1 L212.4 155.1 L213.0 155.1 L213.6 155.1 L214.2 155.1 L214.9 155.1 L215.5 155.1 L216.1 155.1 L216.7 155.1 L217.3 155.1 L217.9 155.1 L218.5 155.1 L219.1 155.1 L219.7 155.1 L220.3 155.1 L220.9 155.1 L221.5 155.1 L222.1 155.1 L222.7 155.1 L223.3 155.1 L223.9 155.1 L224.5 155.1 L225.2 155.1 L225.8 155.0 L226.4 155.0 L227.0 155.0 L227.6 155.0 L228.2 155.0 L228.8 155.0 L229.4 155.0 L230.0 155.0 L230.6 155.0 L231.2 155.0 L231.9 155.0 L232.5 154.9 L233.1 154.9 L233.8 154.9 L234.4 154.9 L235.0 154.8 L235.6 154.8 L236.2 154.8 L236.9 154.7 L237.5 154.7 L238.1 154.6 L238.8 154.6 L239.4 154.5 L240.0 154.5 L240.6 154.4 L241.2 154.4 L241.9 154.3 L242.5 154.2 L243.1 154.1 L243.8 154.1 L244.4 154.0 L245.0 153.9 L245.6 153.7 L246.2 153.6 L246.9 153.5 L247.5 153.4 L248.1 153.3 L248.8 153.1 L249.4 153.0 L250.0 152.9 L250.6 152.8 L251.3 152.6 L251.9 152.5 L252.6 152.3 L253.2 152.2 L253.9 152.0 L254.5 151.8 L255.2 151.6 L255.9 151.3 L256.6 151.0 L257.2 150.7 L257.9 150.3 L258.6 149.9 L259.2 149.5 L259.8 148.9 L260.4 148.3 L261.1 147.6 L261.7 146.9 L262.3 146.1 L262.9 145.2 L263.5 144.1 L264.2 142.8 L264.9 141.4 L265.5 140.0 L266.4 138.0 L267.2 136.2 L267.9 135.2 L268.5 134.6 L269.1 134.6 L269.8 134.5 L270.4 134.5 L271.1 134.5 L271.7 134.4 L272.3 134.4 L273.0 134.4 L273.6 134.4 L274.3 134.4 L274.9 134.4 L275.5 135.0 L276.1 136.2 L276.7 137.5 L277.5 139.1 L278.4 140.9 L279.2 143.1 L280.0 145.2 L280.6 146.5 L281.3 147.8 L282.0 148.8 L282.6 149.7 L283.2 150.4 L283.9 151.1 L284.5 151.7 L285.1 152.2 L285.8 152.6 L286.4 152.9 L287.0 153.1 L287.7 153.3 L288.3 153.5 L289.0 153.6 L289.6 153.8 L290.3 153.9 L290.9 154.0 L291.6 154.1 L292.2 154.1 L292.9 154.2 L293.5 154.2 L294.1 154.3 L294.7 154.3 L295.3 154.4 L295.9 154.4 L296.5 154.4 L297.1 154.5 L297.7 154.5 L298.3 154.5 L298.9 154.6 L299.6 154.6 L300.2 154.6 L300.8 154.7 L301.4 154.7 L302.0 154.7 L302.6 154.7 L303.2 154.7 L303.8 154.8 L304.4 154.8 L305.0 154.8 L305.6 154.8 L306.2 154.8 L306.8 154.9 L307.4 154.9 L308.0 154.9 L308.6 154.9 L309.2 154.9 L309.8 154.9 L310.4 155.0 L311.0 155.0 L311.7 155.0 L312.3 155.0 L312.9 155.0 L313.5 155.1 L314.1 155.1 L314.7 155.1 L315.3 155.1 L315.9 155.1 L316.5 155.2 L317.1 155.2 L317.7 155.2" fill="none" stroke="#76CEF0" stroke-width="1.0" stroke-linejoin="round"/>
<path d="M198.5 147.7 L199.1 147.6 L199.7 147.4 L200.3 147.3 L200.9 147.2 L201.5 147.0 L202.1 146.9 L202.7 146.8 L203.3 146.6 L203.9 146.5 L204.6 146.3 L205.2 146.2 L205.8 146.1 L206.4 145.9 L207.0 145.8 L207.6 145.7 L208.2 145.5 L208.8 145.4 L209.4 145.2 L210.0 145.1 L210.6 145.0 L211.2 144.8 L211.9 144.6 L212.5 144.5 L213.1 144.3 L213.8 144.2 L214.4 144.0 L215.0 143.9 L215.6 143.7 L216.2 143.5 L216.9 143.4 L217.5 143.2 L218.1 143.1 L218.8 142.9 L219.4 142.8 L220.0 142.6 L220.6 142.4 L221.2 142.3 L221.9 142.1 L222.5 142.0 L223.1 141.8 L223.8 141.7 L224.4 141.5 L225.0 141.4 L225.6 141.2 L226.2 141.1 L226.9 140.9 L227.5 140.7 L228.1 140.6 L228.8 140.4 L229.4 140.3 L230.0 140.1 L230.6 139.9 L231.3 139.8 L231.9 139.6 L232.5 139.4 L233.2 139.2 L233.8 139.1 L234.4 138.9 L235.1 138.7 L235.7 138.5 L236.3 138.4 L236.9 138.2 L237.6 138.0 L238.2 137.8 L238.8 137.7 L239.5 137.5 L240.1 137.3 L240.7 137.3 L241.3 137.3 L241.9 137.3 L242.5 137.3 L243.1 137.3 L243.7 137.3 L244.3 137.3 L244.9 137.3 L245.5 137.3 L246.1 137.3 L246.7 137.3 L247.3 137.3 L247.9 137.3 L248.5 137.3 L249.1 137.3 L249.7 137.3 L250.3 137.3 L250.9 137.3 L251.5 137.3 L252.1 137.3 L252.7 137.3 L253.3 137.3 L253.9 137.3 L254.5 137.3 L255.1 137.3 L255.7 137.3 L256.3 137.3 L256.9 137.3 L257.5 137.3 L258.1 137.3 L258.7 137.3 L259.3 137.3 L259.9 137.3 L260.5 137.3 L261.1 137.3 L261.7 137.3 L262.3 137.3 L262.9 137.3 L263.5 137.3 L264.1 137.3 L264.7 137.3 L265.3 137.4 L265.9 137.4 L266.5 137.4 L267.1 137.4 L267.7 137.4 L268.3 137.4 L268.9 137.4 L269.5 137.4 L270.1 137.4 L270.7 137.4 L271.3 137.4 L271.9 137.4 L272.5 137.4 L273.1 137.4 L273.7 137.4 L274.3 137.4 L274.9 137.4 L275.5 137.4 L276.1 137.4 L276.7 137.4 L277.3 137.4 L277.9 137.4 L278.5 137.4 L279.1 137.4 L279.7 137.4 L280.3 137.4 L280.9 137.4 L281.5 137.4 L282.1 137.4 L282.7 137.4 L283.3 137.4 L283.9 137.4 L284.5 137.4 L285.1 137.4 L285.7 137.4 L286.3 137.4 L286.9 137.4 L287.5 137.4 L288.1 137.4 L288.7 137.4 L289.3 137.4 L289.9 137.4 L290.5 137.4 L291.1 137.5 L291.7 137.5 L292.3 137.5 L292.9 137.5 L293.5 137.5 L294.1 137.5 L294.7 137.5 L295.3 137.5 L295.9 137.5 L296.5 137.5 L297.1 137.9 L297.7 139.1 L298.3 140.8 L298.9 142.7 L299.5 144.5 L300.1 146.2 L300.7 147.4 L301.3 147.8 L301.9 147.8 L302.5 147.8 L303.1 147.8 L303.7 147.8 L304.3 147.8 L304.9 147.8 L305.6 147.8 L306.2 147.8 L306.8 147.8 L307.4 147.8 L308.0 147.8 L308.6 147.8 L309.2 147.8 L309.8 147.8 L310.4 147.8 L311.0 147.8 L311.6 147.8 L312.2 147.8 L312.8 147.8 L313.4 147.8 L314.1 147.8 L314.7 147.8 L315.3 147.8 L315.9 147.8 L316.5 147.8 L317.1 147.8 L317.7 147.8" fill="none" stroke="#E9ABEF" stroke-width="1.0" stroke-linejoin="round"/>
<line x1="191.00" x2="192.40" y1="155.10" y2="155.10" stroke="#333" stroke-width="0.3"/>
<text transform="translate(190.40 157.02) rotate(0.01)" font-size="2.6" fill="#707070" stroke="#707070" style="stroke-width:0.08px" text-anchor="end">0</text>
<line x1="191.00" x2="192.40" y1="127.57" y2="127.57" stroke="#333" stroke-width="0.3"/>
<text transform="translate(190.40 130.02) rotate(0.01)" font-size="2.6" fill="#707070" stroke="#707070" style="stroke-width:0.08px" text-anchor="end">100</text>
<line x1="191.00" x2="192.40" y1="100.04" y2="100.04" stroke="#333" stroke-width="0.3"/>
<text transform="translate(190.40 102.02) rotate(0.01)" font-size="2.6" fill="#707070" stroke="#707070" style="stroke-width:0.08px" text-anchor="end">200</text>
<line x1="191.00" x2="192.40" y1="72.51" y2="72.51" stroke="#333" stroke-width="0.3"/>
<text transform="translate(190.40 74.02) rotate(0.01)" font-size="2.6" fill="#707070" stroke="#707070" style="stroke-width:0.08px" text-anchor="end">300</text>
<line x1="191.00" x2="192.40" y1="44.98" y2="44.98" stroke="#333" stroke-width="0.3"/>
<text transform="translate(190.40 47.02) rotate(0.01)" font-size="2.6" fill="#707070" stroke="#707070" style="stroke-width:0.08px" text-anchor="end">400</text>
<line x1="191.00" x2="192.40" y1="17.45" y2="17.45" stroke="#333" stroke-width="0.3"/>
<text transform="translate(190.40 19.02) rotate(0.01)" font-size="2.6" fill="#707070" stroke="#707070" style="stroke-width:0.08px" text-anchor="end">500</text>
<line x1="195.30" x2="195.30" y1="162.00" y2="163.30" stroke="#333" stroke-width="0.3"/>
<text transform="translate(195.30 166.02) rotate(0.01)" font-size="3.1" fill="#707070" stroke="#707070" style="stroke-width:0.08px" text-anchor="middle">Jul 2011</text>
<line x1="226.00" x2="226.00" y1="162.00" y2="163.30" stroke="#333" stroke-width="0.3"/>
<text transform="translate(226.00 166.02) rotate(0.01)" font-size="3.1" fill="#707070" stroke="#707070" style="stroke-width:0.08px" text-anchor="middle">Oct 2011</text>
<line x1="256.70" x2="256.70" y1="162.00" y2="163.30" stroke="#333" stroke-width="0.3"/>
<text transform="translate(256.70 166.02) rotate(0.01)" font-size="3.1" fill="#707070" stroke="#707070" style="stroke-width:0.08px" text-anchor="middle">Jan 2012</text>
<line x1="287.07" x2="287.07" y1="162.00" y2="163.30" stroke="#333" stroke-width="0.3"/>
<text transform="translate(287.07 166.02) rotate(0.01)" font-size="3.1" fill="#707070" stroke="#707070" style="stroke-width:0.08px" text-anchor="middle">Apr 2012</text>
<line x1="317.43" x2="317.43" y1="162.00" y2="163.30" stroke="#333" stroke-width="0.3"/>
<text transform="translate(317.43 166.02) rotate(0.01)" font-size="3.1" fill="#707070" stroke="#707070" style="stroke-width:0.08px" text-anchor="middle">Jul 2012</text>
<text transform="translate(258.20 170.02) rotate(0.01)" font-size="3.75" fill="#000" stroke="#000" style="stroke-width:0.08px" text-anchor="middle">Change Point Date</text>
<text transform="translate(184.02 86.30) rotate(-89.99)" font-size="3.75" fill="#000" stroke="#000" style="stroke-width:0.08px" text-anchor="middle">Mean Counts</text>
<text transform="translate(329.20 72.02) rotate(0.01)" font-size="3.75" fill="#000" stroke="#000" style="stroke-width:0.08px">Disease</text>
<line x1="330.50" x2="335.30" y1="77.30" y2="77.30" stroke="#F0BFBB" stroke-width="1.1"/>
<text transform="translate(337.30 79.02) rotate(0.01)" font-size="3.0" fill="#555">INFLA</text>
<line x1="330.50" x2="335.30" y1="83.13" y2="83.13" stroke="#D0D092" stroke-width="1.1"/>
<text transform="translate(337.30 85.02) rotate(0.01)" font-size="3.0" fill="#555">INFLB</text>
<line x1="330.50" x2="335.30" y1="88.96" y2="88.96" stroke="#92DAC1" stroke-width="1.1"/>
<text transform="translate(337.30 91.02) rotate(0.01)" font-size="3.0" fill="#555">RSV</text>
<line x1="330.50" x2="335.30" y1="94.79" y2="94.79" stroke="#92D5EF" stroke-width="1.1"/>
<text transform="translate(337.30 97.02) rotate(0.01)" font-size="3.0" fill="#555">HMPV</text>
<line x1="330.50" x2="335.30" y1="100.62" y2="100.62" stroke="#E9BAEE" stroke-width="1.1"/>
<text transform="translate(337.30 103.02) rotate(0.01)" font-size="3.0" fill="#555">RHINO</text>
<text transform="translate(264.50 181.02) rotate(0)" font-size="8.5" fill="#000" stroke="#000" style="stroke-width:0.25px" text-anchor="middle" font-family="Liberation Serif, serif" font-weight="bold">(h)</text>
</g>
<g>
<text transform="translate(13.80 190.02) rotate(0.01)" font-size="4.45" fill="#111" stroke="#111" style="stroke-width:0.1px">July 2012 - June 2013</text>
<rect x="13.90" y="192.00" width="131.10" height="151.40" fill="#EBEBEB"/>
<line x1="13.90" x2="145.00" y1="322.74" y2="322.74" stroke="#fff" stroke-width="0.2"/>
<line x1="13.90" x2="145.00" y1="295.20" y2="295.20" stroke="#fff" stroke-width="0.2"/>
<line x1="13.90" x2="145.00" y1="267.68" y2="267.68" stroke="#fff" stroke-width="0.2"/>
<line x1="13.90" x2="145.00" y1="240.15" y2="240.15" stroke="#fff" stroke-width="0.2"/>
<line x1="13.90" x2="145.00" y1="212.62" y2="212.62" stroke="#fff" stroke-width="0.2"/>
<line x1="32.65" x2="32.65" y1="192.00" y2="343.40" stroke="#fff" stroke-width="0.2"/>
<line x1="63.35" x2="63.35" y1="192.00" y2="343.40" stroke="#fff" stroke-width="0.2"/>
<line x1="93.72" x2="93.72" y1="192.00" y2="343.40" stroke="#fff" stroke-width="0.2"/>
<line x1="123.92" x2="123.92" y1="192.00" y2="343.40" stroke="#fff" stroke-width="0.2"/>
<line x1="13.90" x2="145.00" y1="336.50" y2="336.50" stroke="#fff" stroke-width="0.35"/>
<line x1="13.90" x2="145.00" y1="308.97" y2="308.97" stroke="#fff" stroke-width="0.35"/>
<line x1="13.90" x2="145.00" y1="281.44" y2="281.44" stroke="#fff" stroke-width="0.35"/>
<line x1="13.90" x2="145.00" y1="253.91" y2="253.91" stroke="#fff" stroke-width="0.35"/>
<line x1="13.90" x2="145.00" y1="226.38" y2="226.38" stroke="#fff" stroke-width="0.35"/>
<line x1="13.90" x2="145.00" y1="198.85" y2="198.85" stroke="#fff" stroke-width="0.35"/>
<line x1="17.30" x2="17.30" y1="192.00" y2="343.40" stroke="#fff" stroke-width="0.35"/>
<line x1="48.00" x2="48.00" y1="192.00" y2="343.40" stroke="#fff" stroke-width="0.35"/>
<line x1="78.70" x2="78.70" y1="192.00" y2="343.40" stroke="#fff" stroke-width="0.35"/>
<line x1="108.73" x2="108.73" y1="192.00" y2="343.40" stroke="#fff" stroke-width="0.35"/>
<line x1="139.10" x2="139.10" y1="192.00" y2="343.40" stroke="#fff" stroke-width="0.35"/>
<path d="M19.7 336.5 L20.3 336.5 L21.0 336.5 L21.6 336.5 L22.2 336.5 L22.8 336.5 L23.4 336.5 L24.0 336.5 L24.6 336.5 L25.2 336.5 L25.8 336.5 L26.4 336.5 L27.0 336.5 L27.6 336.5 L28.2 336.5 L28.8 336.5 L29.4 336.5 L30.0 336.5 L30.6 336.5 L31.2 336.5 L31.8 336.5 L32.4 336.5 L33.1 336.5 L33.7 336.5 L34.3 336.5 L34.9 336.5 L35.5 336.5 L36.1 336.5 L36.7 336.5 L37.3 336.5 L37.9 336.5 L38.5 336.5 L39.1 336.5 L39.7 336.5 L40.3 336.5 L40.9 336.4 L41.5 336.4 L42.1 336.4 L42.7 336.4 L43.3 336.4 L43.9 336.4 L44.6 336.4 L45.2 336.4 L45.8 336.4 L46.4 336.4 L47.0 336.4 L47.6 336.4 L48.2 336.4 L48.8 336.4 L49.4 336.4 L50.0 336.4 L50.6 336.4 L51.3 336.4 L51.9 336.4 L52.5 336.3 L53.2 336.3 L53.8 336.2 L54.5 336.2 L55.1 336.2 L55.7 336.1 L56.4 336.1 L57.0 336.0 L57.6 335.9 L58.3 335.9 L58.9 335.8 L59.5 335.7 L60.2 335.7 L60.8 335.6 L61.5 335.4 L62.1 335.3 L62.7 335.1 L63.3 334.9 L63.9 334.6 L64.5 334.3 L65.1 333.9 L65.7 333.5 L66.3 333.0 L66.9 332.5 L67.6 331.8 L68.3 331.0 L69.0 330.0 L69.7 328.9 L70.4 327.7 L71.2 326.2 L72.0 324.4 L72.8 322.2 L73.7 319.2 L74.5 315.3 L75.0 312.0 L75.5 308.4 L75.8 306.3 L76.2 304.0 L76.8 297.1 L77.5 291.5 L77.7 290.8 L77.9 290.5 L78.6 290.5 L79.2 290.5 L79.9 290.5 L80.5 290.5 L81.2 290.5 L81.8 290.5 L82.5 290.5 L83.1 290.5 L83.8 290.5 L84.4 290.5 L85.1 290.5 L85.8 295.0 L86.5 301.5 L87.2 305.4 L88.0 308.7 L88.7 311.5 L89.4 314.0 L90.1 316.2 L90.8 318.3 L91.5 320.1 L92.1 321.6 L92.7 323.0 L93.3 324.4 L94.0 325.7 L94.6 326.8 L95.2 327.8 L95.8 328.7 L96.4 329.5 L97.1 330.2 L97.7 330.9 L98.3 331.5 L99.0 332.1 L99.6 332.6 L100.2 333.1 L100.9 333.5 L101.5 333.8 L102.2 334.1 L102.8 334.4 L103.5 334.7 L104.1 335.0 L104.8 335.3 L105.4 335.5 L106.0 335.7 L106.7 335.8 L107.3 335.9 L108.0 336.0 L108.6 336.0 L109.2 336.0 L109.8 336.1 L110.4 336.1 L111.1 336.1 L111.7 336.1 L112.3 336.1 L112.9 336.2 L113.5 336.2 L114.1 336.2 L114.7 336.2 L115.3 336.2 L115.9 336.2 L116.6 336.2 L117.2 336.3 L117.8 336.3 L118.4 336.3 L119.0 336.3 L119.6 336.3 L120.2 336.3 L120.8 336.3 L121.4 336.3 L122.1 336.3 L122.7 336.3 L123.3 336.3 L123.9 336.3 L124.5 336.3 L125.1 336.4 L125.7 336.4 L126.3 336.4 L126.9 336.4 L127.6 336.4 L128.2 336.4 L128.8 336.4 L129.4 336.4 L130.0 336.4 L130.6 336.4 L131.2 336.4 L131.8 336.4 L132.4 336.4 L133.1 336.4 L133.7 336.4 L134.3 336.4 L134.9 336.4 L135.5 336.5 L136.1 336.5 L136.7 336.5 L137.3 336.5 L137.9 336.5 L138.6 336.5" fill="none" stroke="#F2B0AC" stroke-width="1.0" stroke-linejoin="round"/>
<path d="M19.7 336.5 L20.3 336.5 L20.9 336.5 L21.5 336.5 L22.1 336.5 L22.7 336.5 L23.3 336.5 L23.9 336.5 L24.6 336.5 L25.2 336.5 L25.8 336.5 L26.4 336.5 L27.0 336.5 L27.6 336.5 L28.2 336.5 L28.8 336.5 L29.4 336.5 L30.0 336.5 L30.6 336.5 L31.2 336.5 L31.8 336.5 L32.4 336.5 L33.0 336.5 L33.6 336.5 L34.2 336.5 L34.8 336.5 L35.4 336.5 L36.0 336.5 L36.6 336.5 L37.2 336.4 L37.8 336.4 L38.4 336.4 L39.0 336.4 L39.6 336.4 L40.2 336.4 L40.8 336.4 L41.4 336.4 L42.0 336.4 L42.6 336.4 L43.2 336.4 L43.8 336.4 L44.4 336.4 L45.0 336.4 L45.6 336.4 L46.3 336.4 L46.9 336.3 L47.5 336.3 L48.2 336.3 L48.8 336.2 L49.5 336.2 L50.1 336.1 L50.7 336.1 L51.4 336.0 L52.0 336.0 L52.6 336.0 L53.2 335.9 L53.8 335.9 L54.4 335.8 L55.0 335.7 L55.6 335.7 L56.2 335.6 L56.8 335.5 L57.4 335.4 L58.0 335.3 L58.6 335.2 L59.2 335.0 L59.8 334.7 L60.4 334.5 L61.1 334.1 L61.7 333.8 L62.3 333.4 L62.9 333.0 L63.5 332.5 L64.2 331.8 L64.9 331.0 L65.5 329.9 L66.2 328.8 L66.9 327.7 L67.6 326.5 L68.3 325.2 L69.0 323.7 L69.7 322.2 L70.4 320.5 L71.1 318.7 L71.8 316.7 L72.3 314.9 L72.8 313.5 L73.3 312.8 L73.8 312.4 L74.2 312.3 L74.5 312.3 L75.1 312.3 L75.7 312.3 L76.3 312.3 L76.9 312.3 L77.5 312.3 L78.1 312.3 L78.7 312.3 L79.3 312.3 L79.9 312.3 L80.5 312.3 L81.2 312.3 L81.8 312.3 L82.4 312.3 L83.0 312.3 L83.6 312.3 L84.2 312.3 L84.8 312.3 L85.4 312.3 L86.0 312.3 L86.6 312.3 L87.2 312.3 L87.9 313.0 L88.7 314.7 L89.4 316.8 L90.1 318.7 L90.7 320.0 L91.3 321.4 L91.9 322.8 L92.6 324.1 L93.2 325.3 L93.8 326.4 L94.4 327.3 L95.0 328.1 L95.7 328.7 L96.3 329.4 L96.9 330.0 L97.6 330.5 L98.2 331.0 L98.8 331.4 L99.5 331.9 L100.1 332.3 L100.7 332.7 L101.4 333.1 L102.0 333.5 L102.6 333.9 L103.2 334.3 L103.9 334.6 L104.5 334.9 L105.1 335.2 L105.8 335.4 L106.4 335.5 L107.0 335.6 L107.6 335.7 L108.2 335.8 L108.9 335.9 L109.5 335.9 L110.1 336.0 L110.7 336.1 L111.3 336.1 L111.9 336.2 L112.5 336.2 L113.2 336.2 L113.8 336.3 L114.4 336.3 L115.0 336.3 L115.6 336.3 L116.2 336.3 L116.8 336.3 L117.4 336.3 L118.0 336.3 L118.6 336.4 L119.2 336.4 L119.8 336.4 L120.4 336.4 L121.0 336.4 L121.6 336.4 L122.2 336.4 L122.9 336.4 L123.5 336.4 L124.1 336.4 L124.7 336.4 L125.3 336.4 L125.9 336.4 L126.5 336.4 L127.1 336.4 L127.7 336.4 L128.3 336.4 L128.9 336.4 L129.5 336.4 L130.1 336.4 L130.7 336.4 L131.3 336.5 L131.9 336.5 L132.5 336.5 L133.1 336.5 L133.7 336.5 L134.3 336.5 L134.9 336.5 L135.5 336.5 L136.1 336.5 L136.7 336.5 L137.4 336.5 L138.0 336.5 L138.6 336.5" fill="none" stroke="#C7C876" stroke-width="1.0" stroke-linejoin="round"/>
<path d="M19.7 336.5 L20.3 336.5 L20.9 336.5 L21.5 336.5 L22.1 336.5 L22.7 336.5 L23.3 336.5 L23.9 336.5 L24.6 336.5 L25.2 336.5 L25.8 336.5 L26.4 336.5 L27.0 336.5 L27.6 336.5 L28.2 336.5 L28.8 336.4 L29.4 336.4 L30.0 336.4 L30.6 336.4 L31.2 336.4 L31.8 336.4 L32.4 336.4 L33.0 336.4 L33.6 336.4 L34.2 336.4 L34.8 336.4 L35.4 336.4 L36.0 336.4 L36.6 336.4 L37.2 336.4 L37.8 336.4 L38.4 336.4 L39.0 336.4 L39.6 336.4 L40.2 336.4 L40.8 336.4 L41.4 336.4 L42.0 336.3 L42.6 336.3 L43.2 336.3 L43.8 336.3 L44.4 336.3 L45.0 336.3 L45.6 336.3 L46.3 336.3 L46.9 336.2 L47.5 336.2 L48.2 336.1 L48.8 336.0 L49.5 336.0 L50.1 335.9 L50.7 335.8 L51.4 335.7 L52.0 335.6 L52.6 335.5 L53.2 335.3 L53.8 335.1 L54.4 334.9 L55.0 334.7 L55.6 334.4 L56.2 334.1 L56.8 333.8 L57.4 333.5 L58.0 333.2 L58.7 332.8 L59.4 332.4 L60.0 332.0 L60.7 331.5 L61.4 331.0 L62.1 330.4 L62.8 329.7 L63.5 328.9 L64.2 327.9 L64.9 326.8 L65.6 325.6 L66.3 324.3 L66.9 322.7 L67.6 320.8 L68.3 318.8 L69.2 315.6 L70.0 311.9 L70.5 309.4 L71.1 307.1 L71.4 306.1 L71.8 305.0 L72.6 297.2 L73.4 287.0 L74.0 281.4 L74.5 276.0 L75.1 269.2 L75.7 261.5 L76.3 253.9 L77.0 247.1 L77.6 241.9 L78.2 239.0 L79.1 237.3 L79.9 236.6 L80.5 236.6 L81.1 236.6 L81.8 236.6 L82.4 236.6 L83.0 236.6 L83.6 236.6 L84.2 236.6 L84.9 236.6 L85.5 236.6 L86.1 236.6 L86.7 236.6 L87.3 236.6 L88.0 236.6 L88.6 236.6 L89.2 236.6 L89.8 236.6 L90.4 236.6 L91.1 236.6 L91.7 236.6 L92.3 236.6 L92.7 237.8 L93.1 240.0 L93.8 244.5 L94.5 250.4 L95.1 257.0 L95.8 263.7 L96.5 270.0 L97.2 276.5 L98.0 282.9 L98.7 288.6 L99.3 292.7 L100.0 296.3 L100.6 300.0 L101.3 304.2 L101.9 308.4 L102.6 312.0 L103.4 315.4 L104.2 318.5 L104.9 321.2 L105.5 323.8 L106.2 325.8 L107.0 327.3 L107.7 328.5 L108.5 329.5 L109.1 330.2 L109.7 330.8 L110.4 331.3 L111.0 331.8 L111.6 332.2 L112.2 332.6 L112.9 332.9 L113.5 333.2 L114.2 333.5 L114.8 333.8 L115.4 334.0 L116.1 334.3 L116.7 334.5 L117.4 334.6 L118.0 334.8 L118.6 334.9 L119.3 335.1 L119.9 335.2 L120.5 335.3 L121.2 335.4 L121.8 335.5 L122.5 335.6 L123.1 335.7 L123.7 335.8 L124.4 335.8 L125.0 335.9 L125.6 335.9 L126.2 336.0 L126.8 336.0 L127.5 336.1 L128.1 336.1 L128.7 336.1 L129.3 336.1 L129.9 336.2 L130.5 336.2 L131.2 336.2 L131.8 336.2 L132.4 336.3 L133.0 336.3 L133.6 336.3 L134.2 336.3 L134.9 336.4 L135.5 336.4 L136.1 336.4 L136.7 336.4 L137.3 336.4 L137.9 336.5 L138.6 336.5" fill="none" stroke="#76D5B4" stroke-width="1.0" stroke-linejoin="round"/>
<path d="M19.7 336.5 L20.3 336.5 L20.9 336.5 L21.5 336.5 L22.1 336.5 L22.7 336.5 L23.3 336.5 L23.9 336.5 L24.5 336.5 L25.1 336.5 L25.7 336.5 L26.3 336.5 L27.0 336.5 L27.6 336.5 L28.2 336.5 L28.8 336.5 L29.4 336.5 L30.0 336.5 L30.6 336.5 L31.2 336.5 L31.8 336.5 L32.4 336.4 L33.0 336.4 L33.6 336.4 L34.2 336.4 L34.8 336.4 L35.4 336.4 L36.0 336.4 L36.6 336.4 L37.2 336.4 L37.8 336.4 L38.4 336.4 L39.0 336.4 L39.6 336.4 L40.2 336.4 L40.8 336.4 L41.4 336.4 L42.0 336.4 L42.6 336.4 L43.2 336.4 L43.8 336.4 L44.4 336.4 L45.0 336.4 L45.6 336.4 L46.2 336.4 L46.8 336.4 L47.4 336.4 L48.0 336.4 L48.6 336.4 L49.2 336.4 L49.8 336.4 L50.4 336.4 L51.0 336.4 L51.6 336.4 L52.2 336.4 L52.8 336.4 L53.4 336.4 L54.0 336.3 L54.6 336.3 L55.2 336.3 L55.8 336.3 L56.4 336.3 L57.0 336.3 L57.6 336.3 L58.2 336.3 L58.8 336.3 L59.4 336.3 L60.0 336.3 L60.6 336.3 L61.2 336.3 L61.8 336.3 L62.4 336.3 L63.0 336.3 L63.6 336.3 L64.2 336.2 L64.8 336.2 L65.5 336.2 L66.1 336.2 L66.7 336.2 L67.3 336.2 L67.9 336.2 L68.5 336.2 L69.1 336.1 L69.7 336.1 L70.3 336.1 L70.9 336.1 L71.5 336.1 L72.1 336.0 L72.7 336.0 L73.3 336.0 L73.9 336.0 L74.5 336.0 L75.2 335.9 L75.8 335.9 L76.4 335.9 L77.0 335.9 L77.6 335.8 L78.2 335.8 L78.8 335.8 L79.4 335.8 L80.0 335.7 L80.6 335.7 L81.2 335.7 L81.8 335.7 L82.4 335.6 L83.0 335.6 L83.6 335.6 L84.2 335.5 L84.8 335.5 L85.5 335.5 L86.1 335.4 L86.7 335.4 L87.3 335.4 L87.9 335.3 L88.5 335.3 L89.1 335.3 L89.7 335.2 L90.3 335.2 L90.9 335.2 L91.5 335.1 L92.1 335.1 L92.7 335.1 L93.3 335.0 L93.9 335.0 L94.5 335.0 L95.2 334.9 L95.8 334.9 L96.4 334.8 L97.0 334.8 L97.6 334.8 L98.2 334.7 L98.8 334.7 L99.4 334.6 L100.0 334.6 L100.6 334.6 L101.2 334.5 L101.9 334.5 L102.5 334.4 L103.1 334.4 L103.8 334.3 L104.4 334.2 L105.0 334.2 L105.6 334.1 L106.2 334.0 L106.9 333.9 L107.5 333.9 L108.1 333.8 L108.8 333.7 L109.4 333.6 L110.0 333.5 L110.6 333.4 L111.2 333.2 L111.8 333.0 L112.4 332.8 L113.1 332.6 L113.7 332.5 L114.3 332.3 L114.9 332.2 L115.5 332.2 L116.1 332.2 L116.7 332.2 L117.3 332.2 L117.9 332.2 L118.5 332.2 L119.1 332.2 L119.7 332.2 L120.3 332.2 L120.9 332.2 L121.5 332.2 L122.1 332.2 L122.7 332.2 L123.3 332.2 L123.9 332.2 L124.5 332.2 L125.2 332.2 L125.8 332.2 L126.4 332.2 L127.0 332.2 L127.6 332.2 L128.2 332.2 L128.8 332.2 L129.4 332.2 L130.0 332.2 L130.6 332.2 L131.2 332.2 L131.8 332.2 L132.4 332.2 L133.0 332.2 L133.6 332.2 L134.2 332.2 L134.8 332.4 L135.4 332.8 L136.1 333.4 L136.7 334.2 L137.3 335.0 L137.9 335.8 L138.6 336.5" fill="none" stroke="#76CEF0" stroke-width="1.0" stroke-linejoin="round"/>
<path d="M19.7 326.3 L20.4 326.3 L21.0 326.3 L21.6 326.3 L22.2 326.3 L22.8 326.3 L23.4 326.3 L24.1 326.3 L24.7 326.3 L25.3 326.3 L25.9 326.3 L26.5 326.3 L27.1 326.3 L27.8 326.3 L28.4 326.3 L29.0 326.3 L29.5 326.1 L30.0 325.7 L30.6 325.0 L31.2 324.1 L31.8 322.9 L32.5 321.5 L33.1 320.0 L33.7 318.4 L34.3 316.8 L34.9 315.2 L35.5 313.7 L36.2 312.3 L36.8 311.2 L37.4 310.2 L38.0 309.6 L38.5 309.2 L39.1 309.0 L39.7 309.0 L40.3 309.0 L40.9 309.0 L41.5 309.0 L42.1 309.0 L42.7 309.0 L43.3 309.0 L43.9 309.0 L44.5 309.0 L45.1 309.0 L45.7 309.0 L46.3 309.0 L46.9 309.0 L47.5 309.0 L48.1 309.0 L48.7 309.0 L49.3 309.0 L49.9 309.0 L50.5 309.0 L51.1 309.0 L51.7 309.0 L52.3 309.0 L52.9 309.0 L53.5 309.0 L54.1 309.0 L54.7 309.0 L55.3 309.0 L55.9 309.0 L56.5 309.0 L57.1 309.0 L57.7 309.0 L58.3 309.0 L58.9 309.0 L59.5 309.0 L60.1 309.0 L60.7 309.0 L61.3 309.0 L61.9 309.0 L62.5 309.0 L63.1 309.0 L63.7 309.0 L64.3 309.0 L64.9 309.0 L65.5 309.0 L66.1 309.0 L66.7 309.0 L67.3 309.0 L67.9 309.0 L68.5 309.0 L69.1 309.0 L69.7 309.0 L70.3 309.0 L70.9 309.0 L71.5 309.0 L72.1 309.0 L72.7 309.0 L73.3 309.0 L73.9 309.0 L74.5 309.0 L75.1 309.0 L75.7 309.0 L76.3 309.0 L76.9 309.0 L77.5 309.0 L78.1 309.0 L78.7 309.0 L79.3 309.0 L79.9 309.0 L80.5 309.0 L81.1 309.0 L81.7 309.0 L82.3 309.0 L82.9 309.0 L83.5 309.0 L84.1 309.0 L84.7 309.0 L85.3 309.0 L85.9 309.0 L86.5 309.0 L87.1 309.0 L87.7 309.0 L88.3 309.0 L88.9 309.0 L89.5 309.0 L90.1 309.0 L90.7 309.0 L91.3 309.0 L91.9 309.0 L92.5 309.0 L93.1 309.0 L93.7 309.0 L94.3 309.0 L94.9 309.0 L95.5 309.0 L96.1 309.0 L96.7 309.0 L97.3 309.0 L97.9 309.0 L98.5 309.0 L99.1 309.0 L99.7 309.0 L100.3 309.0 L100.9 309.0 L101.5 309.0 L102.1 309.0 L102.7 309.0 L103.3 309.0 L103.9 309.0 L104.5 309.0 L105.1 309.0 L105.7 309.0 L106.3 309.0 L106.9 309.0 L107.5 309.0 L108.1 309.0 L108.7 309.0 L109.3 309.0 L109.9 309.0 L110.5 309.0 L111.1 309.0 L111.7 309.0 L112.3 309.0 L112.9 309.0 L113.5 309.0 L114.1 309.0 L114.7 309.0 L115.3 309.0 L115.9 309.0 L116.5 309.0 L117.1 309.0 L117.7 309.0 L118.3 309.0 L118.9 309.0 L119.5 309.0 L120.1 309.0 L120.7 309.0 L121.3 309.0 L121.9 309.0 L122.6 309.4 L123.2 310.3 L123.8 311.4 L124.5 312.6 L125.1 313.7 L125.8 314.8 L126.4 315.9 L127.1 316.9 L127.7 318.0 L128.3 319.1 L129.0 320.1 L129.6 321.2 L130.3 322.2 L130.9 323.2 L131.5 324.2 L132.2 325.1 L132.8 325.8 L133.5 326.3 L134.2 326.6 L134.8 326.6 L135.4 326.6 L136.1 326.6 L136.7 326.6 L137.3 326.6 L137.9 326.6 L138.6 326.6" fill="none" stroke="#E9ABEF" stroke-width="1.0" stroke-linejoin="round"/>
<line x1="12.50" x2="13.90" y1="336.50" y2="336.50" stroke="#333" stroke-width="0.3"/>
<text transform="translate(11.90 338.02) rotate(0.01)" font-size="2.6" fill="#707070" stroke="#707070" style="stroke-width:0.08px" text-anchor="end">0</text>
<line x1="12.50" x2="13.90" y1="308.97" y2="308.97" stroke="#333" stroke-width="0.3"/>
<text transform="translate(11.90 311.02) rotate(0.01)" font-size="2.6" fill="#707070" stroke="#707070" style="stroke-width:0.08px" text-anchor="end">100</text>
<line x1="12.50" x2="13.90" y1="281.44" y2="281.44" stroke="#333" stroke-width="0.3"/>
<text transform="translate(11.90 283.02) rotate(0.01)" font-size="2.6" fill="#707070" stroke="#707070" style="stroke-width:0.08px" text-anchor="end">200</text>
<line x1="12.50" x2="13.90" y1="253.91" y2="253.91" stroke="#333" stroke-width="0.3"/>
<text transform="translate(11.90 256.02) rotate(0.01)" font-size="2.6" fill="#707070" stroke="#707070" style="stroke-width:0.08px" text-anchor="end">300</text>
<line x1="12.50" x2="13.90" y1="226.38" y2="226.38" stroke="#333" stroke-width="0.3"/>
<text transform="translate(11.90 228.02) rotate(0.01)" font-size="2.6" fill="#707070" stroke="#707070" style="stroke-width:0.08px" text-anchor="end">400</text>
<line x1="12.50" x2="13.90" y1="198.85" y2="198.85" stroke="#333" stroke-width="0.3"/>
<text transform="translate(11.90 201.02) rotate(0.01)" font-size="2.6" fill="#707070" stroke="#707070" style="stroke-width:0.08px" text-anchor="end">500</text>
<line x1="17.30" x2="17.30" y1="343.40" y2="344.70" stroke="#333" stroke-width="0.3"/>
<text transform="translate(17.30 348.02) rotate(0.01)" font-size="3.1" fill="#707070" stroke="#707070" style="stroke-width:0.08px" text-anchor="middle">Jul 2012</text>
<line x1="48.00" x2="48.00" y1="343.40" y2="344.70" stroke="#333" stroke-width="0.3"/>
<text transform="translate(48.00 348.02) rotate(0.01)" font-size="3.1" fill="#707070" stroke="#707070" style="stroke-width:0.08px" text-anchor="middle">Oct 2012</text>
<line x1="78.70" x2="78.70" y1="343.40" y2="344.70" stroke="#333" stroke-width="0.3"/>
<text transform="translate(78.70 348.02) rotate(0.01)" font-size="3.1" fill="#707070" stroke="#707070" style="stroke-width:0.08px" text-anchor="middle">Jan 2013</text>
<line x1="108.73" x2="108.73" y1="343.40" y2="344.70" stroke="#333" stroke-width="0.3"/>
<text transform="translate(108.73 348.02) rotate(0.01)" font-size="3.1" fill="#707070" stroke="#707070" style="stroke-width:0.08px" text-anchor="middle">Apr 2013</text>
<line x1="139.10" x2="139.10" y1="343.40" y2="344.70" stroke="#333" stroke-width="0.3"/>
<text transform="translate(139.10 348.02) rotate(0.01)" font-size="3.1" fill="#707070" stroke="#707070" style="stroke-width:0.08px" text-anchor="middle">Jul 2013</text>
<text transform="translate(79.45 352.02) rotate(0.01)" font-size="3.75" fill="#000" stroke="#000" style="stroke-width:0.08px" text-anchor="middle">Change Point Date</text>
<text transform="translate(6.02 267.70) rotate(-89.99)" font-size="3.75" fill="#000" stroke="#000" style="stroke-width:0.08px" text-anchor="middle">Mean Counts</text>
<text transform="translate(150.20 254.02) rotate(0.01)" font-size="3.75" fill="#000" stroke="#000" style="stroke-width:0.08px">Disease</text>
<line x1="151.50" x2="156.30" y1="258.70" y2="258.70" stroke="#F0BFBB" stroke-width="1.1"/>
<text transform="translate(158.30 261.02) rotate(0.01)" font-size="3.0" fill="#555">INFLA</text>
<line x1="151.50" x2="156.30" y1="264.53" y2="264.53" stroke="#D0D092" stroke-width="1.1"/>
<text transform="translate(158.30 266.02) rotate(0.01)" font-size="3.0" fill="#555">INFLB</text>
<line x1="151.50" x2="156.30" y1="270.36" y2="270.36" stroke="#92DAC1" stroke-width="1.1"/>
<text transform="translate(158.30 272.02) rotate(0.01)" font-size="3.0" fill="#555">RSV</text>
<line x1="151.50" x2="156.30" y1="276.19" y2="276.19" stroke="#92D5EF" stroke-width="1.1"/>
<text transform="translate(158.30 278.02) rotate(0.01)" font-size="3.0" fill="#555">HMPV</text>
<line x1="151.50" x2="156.30" y1="282.02" y2="282.02" stroke="#E9BAEE" stroke-width="1.1"/>
<text transform="translate(158.30 284.02) rotate(0.01)" font-size="3.0" fill="#555">RHINO</text>
<text transform="translate(86.00 362.02) rotate(0)" font-size="8.5" fill="#000" stroke="#000" style="stroke-width:0.25px" text-anchor="middle" font-family="Liberation Serif, serif" font-weight="bold">(i)</text>
</g>
<g>
<text transform="translate(192.30 190.02) rotate(0.01)" font-size="4.45" fill="#111" stroke="#111" style="stroke-width:0.1px">July 2013 - June 2014</text>
<rect x="192.40" y="192.30" width="131.60" height="151.40" fill="#EBEBEB"/>
<line x1="192.40" x2="324.00" y1="323.04" y2="323.04" stroke="#fff" stroke-width="0.2"/>
<line x1="192.40" x2="324.00" y1="295.50" y2="295.50" stroke="#fff" stroke-width="0.2"/>
<line x1="192.40" x2="324.00" y1="267.98" y2="267.98" stroke="#fff" stroke-width="0.2"/>
<line x1="192.40" x2="324.00" y1="240.45" y2="240.45" stroke="#fff" stroke-width="0.2"/>
<line x1="192.40" x2="324.00" y1="212.92" y2="212.92" stroke="#fff" stroke-width="0.2"/>
<line x1="211.85" x2="211.85" y1="192.30" y2="343.70" stroke="#fff" stroke-width="0.2"/>
<line x1="242.55" x2="242.55" y1="192.30" y2="343.70" stroke="#fff" stroke-width="0.2"/>
<line x1="272.92" x2="272.92" y1="192.30" y2="343.70" stroke="#fff" stroke-width="0.2"/>
<line x1="303.12" x2="303.12" y1="192.30" y2="343.70" stroke="#fff" stroke-width="0.2"/>
<line x1="192.40" x2="324.00" y1="336.80" y2="336.80" stroke="#fff" stroke-width="0.35"/>
<line x1="192.40" x2="324.00" y1="309.27" y2="309.27" stroke="#fff" stroke-width="0.35"/>
<line x1="192.40" x2="324.00" y1="281.74" y2="281.74" stroke="#fff" stroke-width="0.35"/>
<line x1="192.40" x2="324.00" y1="254.21" y2="254.21" stroke="#fff" stroke-width="0.35"/>
<line x1="192.40" x2="324.00" y1="226.68" y2="226.68" stroke="#fff" stroke-width="0.35"/>
<line x1="192.40" x2="324.00" y1="199.15" y2="199.15" stroke="#fff" stroke-width="0.35"/>
<line x1="196.50" x2="196.50" y1="192.30" y2="343.70" stroke="#fff" stroke-width="0.35"/>
<line x1="227.20" x2="227.20" y1="192.30" y2="343.70" stroke="#fff" stroke-width="0.35"/>
<line x1="257.90" x2="257.90" y1="192.30" y2="343.70" stroke="#fff" stroke-width="0.35"/>
<line x1="287.93" x2="287.93" y1="192.30" y2="343.70" stroke="#fff" stroke-width="0.35"/>
<line x1="318.30" x2="318.30" y1="192.30" y2="343.70" stroke="#fff" stroke-width="0.35"/>
<path d="M198.5 336.6 L199.1 336.6 L199.7 336.6 L200.3 336.6 L200.9 336.6 L201.5 336.6 L202.1 336.6 L202.7 336.6 L203.3 336.6 L203.9 336.6 L204.5 336.6 L205.2 336.6 L205.8 336.6 L206.4 336.6 L207.0 336.6 L207.6 336.6 L208.2 336.6 L208.8 336.6 L209.4 336.6 L210.0 336.6 L210.6 336.6 L211.2 336.6 L211.8 336.6 L212.4 336.6 L213.0 336.6 L213.6 336.6 L214.2 336.5 L214.8 336.5 L215.4 336.5 L216.0 336.5 L216.6 336.5 L217.2 336.5 L217.9 336.5 L218.5 336.5 L219.1 336.5 L219.7 336.5 L220.3 336.5 L220.9 336.5 L221.5 336.5 L222.1 336.5 L222.7 336.5 L223.3 336.5 L223.9 336.5 L224.5 336.5 L225.1 336.5 L225.7 336.5 L226.3 336.5 L226.9 336.5 L227.5 336.5 L228.1 336.5 L228.7 336.5 L229.3 336.5 L230.0 336.5 L230.6 336.5 L231.2 336.5 L231.8 336.5 L232.4 336.4 L233.0 336.4 L233.6 336.4 L234.2 336.4 L234.8 336.4 L235.4 336.4 L236.0 336.4 L236.6 336.4 L237.2 336.3 L237.8 336.1 L238.4 335.9 L239.0 335.7 L239.6 335.4 L240.2 335.1 L240.8 334.7 L241.4 334.4 L242.0 333.9 L242.7 333.3 L243.3 332.5 L244.0 331.6 L244.6 330.6 L245.3 329.5 L245.9 328.3 L246.6 327.1 L247.2 325.8 L247.9 324.3 L248.6 322.5 L249.3 320.5 L250.0 318.3 L250.7 315.8 L251.4 312.3 L252.2 308.1 L252.9 304.4 L253.5 301.5 L254.2 298.9 L254.8 297.5 L255.2 297.3 L255.5 297.2 L256.2 297.2 L256.9 297.2 L257.8 301.2 L258.6 307.2 L259.3 310.5 L260.1 313.4 L260.8 315.8 L261.5 317.9 L262.2 319.9 L263.0 321.7 L263.7 323.2 L264.4 324.4 L265.0 325.3 L265.7 326.1 L266.3 326.8 L266.9 327.5 L267.6 328.1 L268.2 328.7 L268.8 329.2 L269.5 329.7 L270.1 330.1 L270.7 330.5 L271.4 330.9 L272.0 331.3 L272.7 331.7 L273.3 332.1 L274.0 332.4 L274.6 332.7 L275.3 333.0 L275.9 333.3 L276.6 333.5 L277.2 333.7 L277.8 333.9 L278.4 334.1 L279.0 334.2 L279.6 334.4 L280.2 334.5 L280.8 334.7 L281.4 334.8 L282.0 334.9 L282.6 335.1 L283.2 335.2 L283.8 335.3 L284.4 335.3 L285.0 335.4 L285.6 335.5 L286.2 335.5 L286.8 335.6 L287.4 335.6 L288.0 335.7 L288.6 335.7 L289.2 335.8 L289.8 335.8 L290.4 335.9 L291.0 335.9 L291.6 335.9 L292.2 336.0 L292.8 336.0 L293.4 336.0 L294.0 336.1 L294.6 336.1 L295.2 336.1 L295.8 336.2 L296.4 336.2 L297.0 336.2 L297.6 336.2 L298.2 336.2 L298.8 336.3 L299.4 336.3 L300.0 336.3 L300.6 336.3 L301.2 336.3 L301.8 336.3 L302.4 336.4 L303.1 336.4 L303.7 336.4 L304.3 336.4 L304.9 336.4 L305.5 336.4 L306.1 336.4 L306.7 336.4 L307.3 336.4 L307.9 336.5 L308.5 336.5 L309.2 336.5 L309.8 336.5 L310.4 336.5 L311.0 336.5 L311.6 336.5 L312.2 336.5 L312.8 336.5 L313.4 336.5 L314.0 336.5 L314.6 336.6 L315.3 336.6 L315.9 336.6 L316.5 336.6 L317.1 336.6 L317.7 336.6" fill="none" stroke="#F2B0AC" stroke-width="1.0" stroke-linejoin="round"/>
<path d="M198.5 336.7 L199.1 336.7 L199.7 336.7 L200.3 336.7 L200.9 336.7 L201.5 336.7 L202.1 336.7 L202.7 336.7 L203.3 336.7 L203.9 336.7 L204.5 336.7 L205.1 336.7 L205.7 336.7 L206.3 336.7 L206.9 336.7 L207.5 336.7 L208.1 336.7 L208.8 336.7 L209.4 336.7 L210.0 336.7 L210.6 336.7 L211.2 336.7 L211.8 336.7 L212.4 336.7 L213.0 336.7 L213.6 336.7 L214.2 336.7 L214.8 336.7 L215.4 336.7 L216.0 336.7 L216.6 336.7 L217.2 336.7 L217.8 336.7 L218.4 336.7 L219.0 336.7 L219.6 336.7 L220.2 336.7 L220.8 336.7 L221.4 336.7 L222.0 336.7 L222.6 336.7 L223.2 336.7 L223.8 336.7 L224.4 336.7 L225.0 336.7 L225.6 336.7 L226.2 336.7 L226.8 336.7 L227.4 336.7 L228.0 336.7 L228.6 336.7 L229.2 336.7 L229.9 336.7 L230.5 336.7 L231.1 336.7 L231.7 336.7 L232.3 336.7 L232.9 336.7 L233.5 336.7 L234.1 336.7 L234.7 336.7 L235.3 336.7 L235.9 336.7 L236.5 336.7 L237.1 336.7 L237.7 336.7 L238.3 336.7 L238.9 336.7 L239.5 336.7 L240.1 336.7 L240.7 336.7 L241.3 336.7 L241.9 336.7 L242.5 336.6 L243.1 336.6 L243.7 336.6 L244.3 336.6 L244.9 336.6 L245.5 336.6 L246.1 336.6 L246.7 336.6 L247.3 336.6 L247.9 336.6 L248.5 336.6 L249.1 336.6 L249.8 336.6 L250.4 336.6 L251.0 336.6 L251.6 336.6 L252.2 336.6 L252.8 336.6 L253.4 336.6 L254.0 336.6 L254.6 336.6 L255.2 336.6 L255.8 336.6 L256.4 336.6 L257.0 336.6 L257.6 336.6 L258.2 336.6 L258.8 336.6 L259.4 336.6 L260.0 336.6 L260.6 336.6 L261.2 336.6 L261.9 336.6 L262.5 336.6 L263.1 336.5 L263.8 336.5 L264.4 336.5 L265.0 336.5 L265.6 336.4 L266.2 336.4 L266.9 336.4 L267.5 336.3 L268.1 336.3 L268.8 336.3 L269.4 336.2 L270.0 336.2 L270.6 336.2 L271.2 336.1 L271.9 336.1 L272.5 336.0 L273.1 336.0 L273.8 335.9 L274.4 335.8 L275.0 335.8 L275.6 335.7 L276.2 335.6 L276.9 335.5 L277.5 335.5 L278.1 335.4 L278.8 335.3 L279.4 335.3 L280.0 335.2 L280.6 335.1 L281.2 335.1 L281.8 335.0 L282.4 334.9 L283.0 334.9 L283.6 334.8 L284.2 334.7 L284.8 334.6 L285.4 334.6 L286.0 334.5 L286.6 334.4 L287.2 334.4 L287.8 334.3 L288.4 334.3 L289.0 334.2 L289.6 334.1 L290.2 334.1 L290.8 334.0 L291.4 334.0 L292.0 333.9 L292.6 333.9 L293.2 333.9 L293.8 333.8 L294.4 333.8 L295.0 333.8 L295.6 333.8 L296.2 333.8 L296.9 333.9 L297.5 333.9 L298.1 334.0 L298.8 334.1 L299.4 334.2 L300.0 334.3 L300.6 334.5 L301.3 334.8 L301.9 335.1 L302.5 335.5 L303.1 335.8 L303.8 336.1 L304.4 336.2 L305.0 336.3 L305.6 336.3 L306.2 336.3 L306.8 336.4 L307.4 336.4 L308.0 336.5 L308.6 336.5 L309.2 336.5 L309.8 336.5 L310.4 336.6 L311.0 336.6 L311.7 336.6 L312.3 336.6 L312.9 336.6 L313.5 336.7 L314.1 336.7 L314.7 336.7 L315.3 336.7 L315.9 336.7 L316.5 336.8 L317.1 336.8 L317.7 336.8" fill="none" stroke="#C7C876" stroke-width="1.0" stroke-linejoin="round"/>
<path d="M198.5 336.6 L199.1 336.6 L199.7 336.6 L200.3 336.6 L200.9 336.6 L201.5 336.6 L202.1 336.6 L202.7 336.6 L203.3 336.6 L204.0 336.6 L204.6 336.6 L205.2 336.6 L205.8 336.6 L206.4 336.6 L207.0 336.6 L207.6 336.6 L208.2 336.6 L208.8 336.6 L209.4 336.6 L210.0 336.5 L210.6 336.5 L211.2 336.5 L211.8 336.5 L212.4 336.5 L213.0 336.5 L213.6 336.5 L214.2 336.5 L214.9 336.5 L215.5 336.5 L216.1 336.5 L216.7 336.5 L217.3 336.5 L217.9 336.5 L218.5 336.5 L219.1 336.5 L219.7 336.5 L220.3 336.5 L220.9 336.5 L221.5 336.5 L222.1 336.5 L222.7 336.5 L223.3 336.5 L223.9 336.5 L224.5 336.5 L225.2 336.5 L225.8 336.5 L226.4 336.4 L227.0 336.4 L227.6 336.4 L228.2 336.4 L228.8 336.4 L229.4 336.4 L230.0 336.4 L230.6 336.4 L231.2 336.4 L231.9 336.3 L232.5 336.3 L233.1 336.2 L233.8 336.2 L234.4 336.1 L235.0 336.0 L235.6 335.9 L236.2 335.8 L236.9 335.7 L237.5 335.6 L238.1 335.5 L238.8 335.4 L239.4 335.3 L240.0 335.2 L240.6 335.1 L241.2 335.0 L241.8 334.9 L242.4 334.7 L243.0 334.6 L243.6 334.4 L244.2 334.3 L244.8 334.1 L245.4 333.9 L246.1 333.7 L246.7 333.5 L247.3 333.3 L247.9 333.1 L248.5 332.9 L249.1 332.7 L249.7 332.4 L250.3 332.1 L250.9 331.9 L251.5 331.6 L252.1 331.3 L252.8 330.9 L253.4 330.5 L254.1 330.0 L254.7 329.5 L255.4 329.0 L256.0 328.4 L256.7 327.8 L257.3 327.2 L258.0 326.5 L258.6 325.8 L259.2 325.1 L259.8 324.3 L260.4 323.4 L261.1 322.4 L261.7 321.3 L262.3 320.1 L262.9 318.7 L263.6 316.4 L264.4 313.4 L265.1 310.2 L265.8 307.2 L266.5 304.1 L267.2 300.8 L268.0 298.1 L268.7 296.8 L269.0 296.7 L269.4 296.6 L270.0 296.6 L270.6 296.6 L271.2 296.6 L271.8 296.6 L272.4 296.6 L273.0 296.6 L273.6 296.6 L274.2 296.6 L274.8 296.6 L275.4 296.6 L276.0 296.6 L276.6 296.6 L277.2 296.6 L277.8 296.6 L278.4 296.6 L279.0 296.6 L279.6 296.6 L280.2 296.6 L280.8 296.6 L281.4 296.6 L282.0 296.6 L282.6 296.6 L283.2 296.6 L283.8 296.6 L284.4 296.6 L285.0 296.6 L285.6 296.6 L286.3 297.5 L287.0 299.8 L287.7 302.8 L288.4 305.8 L289.0 308.7 L289.7 311.9 L290.3 314.8 L291.1 317.6 L291.8 320.1 L292.6 322.2 L293.2 323.8 L293.9 325.2 L294.6 326.4 L295.2 327.4 L295.9 328.3 L296.6 329.0 L297.2 329.6 L297.9 330.2 L298.6 330.8 L299.2 331.3 L299.8 331.8 L300.4 332.3 L301.1 332.7 L301.7 333.1 L302.3 333.5 L302.9 333.8 L303.5 334.1 L304.2 334.4 L304.8 334.6 L305.4 334.9 L306.1 335.1 L306.7 335.3 L307.4 335.5 L308.0 335.6 L308.6 335.7 L309.2 335.8 L309.8 335.9 L310.4 336.0 L311.0 336.0 L311.6 336.1 L312.2 336.2 L312.9 336.2 L313.5 336.3 L314.1 336.3 L314.7 336.4 L315.3 336.5 L315.9 336.5 L316.5 336.6 L317.1 336.6 L317.7 336.7" fill="none" stroke="#76D5B4" stroke-width="1.0" stroke-linejoin="round"/>
<path d="M198.5 336.6 L199.1 336.6 L199.7 336.6 L200.3 336.6 L200.9 336.6 L201.5 336.6 L202.2 336.6 L202.8 336.6 L203.4 336.6 L204.0 336.6 L204.6 336.6 L205.2 336.6 L205.8 336.6 L206.4 336.6 L207.0 336.5 L207.6 336.5 L208.2 336.5 L208.8 336.5 L209.4 336.5 L210.1 336.5 L210.7 336.5 L211.3 336.5 L211.9 336.5 L212.5 336.5 L213.1 336.5 L213.7 336.5 L214.3 336.5 L214.9 336.5 L215.5 336.5 L216.1 336.5 L216.8 336.5 L217.4 336.5 L218.0 336.5 L218.6 336.5 L219.2 336.5 L219.8 336.5 L220.4 336.5 L221.0 336.5 L221.6 336.5 L222.2 336.5 L222.8 336.5 L223.4 336.5 L224.1 336.5 L224.7 336.5 L225.3 336.4 L225.9 336.4 L226.5 336.4 L227.1 336.4 L227.7 336.4 L228.3 336.4 L228.9 336.4 L229.5 336.4 L230.1 336.4 L230.7 336.4 L231.3 336.4 L232.0 336.4 L232.6 336.3 L233.2 336.3 L233.8 336.3 L234.4 336.3 L235.0 336.3 L235.6 336.3 L236.2 336.2 L236.9 336.1 L237.5 335.9 L238.1 335.8 L238.8 335.6 L239.4 335.4 L240.0 335.2 L240.7 335.0 L241.3 334.7 L242.0 334.3 L242.6 333.9 L243.3 333.5 L243.9 333.0 L244.6 332.5 L245.2 332.0 L245.9 331.4 L246.5 330.8 L247.2 330.1 L247.8 329.4 L248.4 328.5 L249.0 327.5 L249.7 326.4 L250.3 325.3 L250.9 324.1 L251.5 323.0 L252.2 321.5 L252.9 319.9 L253.6 318.2 L254.3 316.8 L255.0 315.8 L255.6 315.1 L256.3 314.6 L256.9 314.4 L257.5 314.4 L258.2 314.4 L258.9 314.4 L259.5 314.4 L260.1 314.4 L260.8 314.4 L261.5 314.7 L262.2 315.5 L263.0 316.5 L263.7 317.7 L264.4 318.7 L265.0 319.5 L265.6 320.4 L266.2 321.2 L266.9 322.1 L267.5 322.9 L268.1 323.7 L268.7 324.4 L269.3 325.0 L270.0 325.7 L270.6 326.2 L271.3 326.8 L271.9 327.3 L272.6 327.9 L273.2 328.4 L273.9 328.8 L274.5 329.3 L275.2 329.7 L275.8 330.1 L276.5 330.5 L277.1 330.9 L277.8 331.2 L278.4 331.6 L279.1 331.9 L279.7 332.3 L280.4 332.6 L281.0 332.9 L281.7 333.2 L282.3 333.4 L283.0 333.7 L283.7 334.0 L284.4 334.2 L285.0 334.4 L285.7 334.6 L286.4 334.8 L287.0 334.9 L287.6 335.0 L288.3 335.1 L288.9 335.2 L289.5 335.3 L290.1 335.4 L290.7 335.5 L291.3 335.6 L292.0 335.7 L292.6 335.7 L293.2 335.8 L293.8 335.9 L294.4 335.9 L295.1 336.0 L295.7 336.1 L296.3 336.1 L296.9 336.1 L297.5 336.2 L298.1 336.2 L298.8 336.3 L299.4 336.3 L300.0 336.3 L300.6 336.3 L301.2 336.3 L301.8 336.4 L302.4 336.4 L303.1 336.4 L303.7 336.4 L304.3 336.4 L304.9 336.4 L305.5 336.4 L306.1 336.4 L306.7 336.4 L307.3 336.5 L307.9 336.5 L308.5 336.5 L309.2 336.5 L309.8 336.5 L310.4 336.5 L311.0 336.5 L311.6 336.5 L312.2 336.5 L312.8 336.5 L313.4 336.5 L314.0 336.5 L314.6 336.6 L315.3 336.6 L315.9 336.6 L316.5 336.6 L317.1 336.6 L317.7 336.6" fill="none" stroke="#76CEF0" stroke-width="1.0" stroke-linejoin="round"/>
<path d="M198.5 327.8 L199.1 327.8 L199.7 327.8 L200.4 327.8 L201.0 327.8 L201.6 327.8 L202.2 327.8 L202.8 327.8 L203.5 327.8 L204.1 327.8 L204.7 327.8 L205.3 327.8 L205.9 327.8 L206.5 327.8 L207.2 327.8 L207.8 327.8 L208.4 327.8 L209.0 327.8 L209.6 327.8 L210.3 327.8 L210.9 327.8 L211.5 327.8 L212.0 327.4 L212.5 326.6 L213.1 325.8 L213.8 324.9 L214.4 324.0 L215.0 323.1 L215.6 322.2 L216.3 321.3 L216.9 320.4 L217.5 319.4 L218.2 318.5 L218.8 317.6 L219.4 316.7 L220.0 315.8 L220.7 314.9 L221.3 314.1 L221.8 313.3 L222.3 312.9 L222.9 312.9 L223.5 312.9 L224.1 312.9 L224.7 312.9 L225.3 312.9 L225.9 312.9 L226.5 312.9 L227.1 312.9 L227.7 312.9 L228.3 312.9 L228.9 312.9 L229.5 312.9 L230.1 312.9 L230.8 312.9 L231.4 312.9 L232.0 312.9 L232.6 312.9 L233.2 312.9 L233.8 312.9 L234.4 312.9 L235.0 312.9 L235.6 312.9 L236.2 312.9 L236.8 312.9 L237.4 312.9 L238.0 312.9 L238.6 312.9 L239.2 312.9 L239.8 312.9 L240.4 312.9 L241.0 312.9 L241.6 312.9 L242.2 312.9 L242.8 312.9 L243.4 312.9 L244.0 312.9 L244.6 312.9 L245.2 312.9 L245.8 312.9 L246.5 312.9 L247.1 312.9 L247.7 312.9 L248.3 312.9 L248.9 312.9 L249.5 312.9 L250.1 312.9 L250.7 312.9 L251.3 312.9 L251.9 312.9 L252.5 312.9 L253.1 312.9 L253.7 312.9 L254.3 312.9 L254.9 312.9 L255.5 312.9 L256.1 312.9 L256.7 312.9 L257.3 312.9 L257.9 312.9 L258.5 312.9 L259.1 312.9 L259.7 312.9 L260.3 312.9 L260.9 312.9 L261.5 312.9 L262.1 312.9 L262.8 312.9 L263.4 312.9 L264.0 312.9 L264.6 312.9 L265.2 312.9 L265.8 312.9 L266.4 312.9 L267.0 312.9 L267.6 312.9 L268.2 312.9 L268.8 312.9 L269.4 312.9 L270.0 312.9 L270.6 312.9 L271.2 312.9 L271.8 312.9 L272.4 313.0 L273.0 313.0 L273.6 313.0 L274.2 313.0 L274.8 313.0 L275.4 313.0 L276.0 313.0 L276.6 313.0 L277.2 313.0 L277.8 313.0 L278.4 313.0 L279.1 313.0 L279.7 313.0 L280.3 313.0 L280.9 313.0 L281.5 313.0 L282.1 313.0 L282.7 313.0 L283.3 313.0 L283.9 313.0 L284.5 313.0 L285.1 313.0 L285.7 313.0 L286.3 313.0 L286.9 313.0 L287.5 313.0 L288.1 313.0 L288.7 313.0 L289.3 313.0 L289.9 313.0 L290.5 313.0 L291.1 313.0 L291.7 313.0 L292.3 313.0 L292.9 313.0 L293.5 313.0 L294.1 313.0 L294.8 313.0 L295.4 313.1 L296.0 313.1 L296.6 313.1 L297.2 313.1 L297.8 313.1 L298.4 313.1 L299.0 313.1 L299.6 313.1 L300.2 313.1 L300.8 313.1 L301.4 313.1 L302.0 313.1 L302.6 313.1 L303.3 313.4 L304.0 314.2 L304.5 315.1 L305.0 316.2 L305.7 317.8 L306.5 319.4 L307.2 320.9 L307.9 322.0 L308.5 323.0 L309.1 324.0 L309.8 324.8 L310.4 325.6 L311.1 326.3 L311.8 327.0 L312.4 327.4 L313.0 327.7 L313.6 327.8 L314.3 327.8 L315.0 327.8 L315.6 327.8 L316.3 327.8 L317.0 327.8 L317.7 327.8" fill="none" stroke="#E9ABEF" stroke-width="1.0" stroke-linejoin="round"/>
<line x1="191.00" x2="192.40" y1="336.80" y2="336.80" stroke="#333" stroke-width="0.3"/>
<text transform="translate(190.40 339.02) rotate(0.01)" font-size="2.6" fill="#707070" stroke="#707070" style="stroke-width:0.08px" text-anchor="end">0</text>
<line x1="191.00" x2="192.40" y1="309.27" y2="309.27" stroke="#333" stroke-width="0.3"/>
<text transform="translate(190.40 311.02) rotate(0.01)" font-size="2.6" fill="#707070" stroke="#707070" style="stroke-width:0.08px" text-anchor="end">100</text>
<line x1="191.00" x2="192.40" y1="281.74" y2="281.74" stroke="#333" stroke-width="0.3"/>
<text transform="translate(190.40 284.02) rotate(0.01)" font-size="2.6" fill="#707070" stroke="#707070" style="stroke-width:0.08px" text-anchor="end">200</text>
<line x1="191.00" x2="192.40" y1="254.21" y2="254.21" stroke="#333" stroke-width="0.3"/>
<text transform="translate(190.40 256.02) rotate(0.01)" font-size="2.6" fill="#707070" stroke="#707070" style="stroke-width:0.08px" text-anchor="end">300</text>
<line x1="191.00" x2="192.40" y1="226.68" y2="226.68" stroke="#333" stroke-width="0.3"/>
<text transform="translate(190.40 229.02) rotate(0.01)" font-size="2.6" fill="#707070" stroke="#707070" style="stroke-width:0.08px" text-anchor="end">400</text>
<line x1="191.00" x2="192.40" y1="199.15" y2="199.15" stroke="#333" stroke-width="0.3"/>
<text transform="translate(190.40 201.02) rotate(0.01)" font-size="2.6" fill="#707070" stroke="#707070" style="stroke-width:0.08px" text-anchor="end">500</text>
<line x1="196.50" x2="196.50" y1="343.70" y2="345.00" stroke="#333" stroke-width="0.3"/>
<text transform="translate(196.50 348.02) rotate(0.01)" font-size="3.1" fill="#707070" stroke="#707070" style="stroke-width:0.08px" text-anchor="middle">Jul 2013</text>
<line x1="227.20" x2="227.20" y1="343.70" y2="345.00" stroke="#333" stroke-width="0.3"/>
<text transform="translate(227.20 348.02) rotate(0.01)" font-size="3.1" fill="#707070" stroke="#707070" style="stroke-width:0.08px" text-anchor="middle">Oct 2013</text>
<line x1="257.90" x2="257.90" y1="343.70" y2="345.00" stroke="#333" stroke-width="0.3"/>
<text transform="translate(257.90 348.02) rotate(0.01)" font-size="3.1" fill="#707070" stroke="#707070" style="stroke-width:0.08px" text-anchor="middle">Jan 2014</text>
<line x1="287.93" x2="287.93" y1="343.70" y2="345.00" stroke="#333" stroke-width="0.3"/>
<text transform="translate(287.93 348.02) rotate(0.01)" font-size="3.1" fill="#707070" stroke="#707070" style="stroke-width:0.08px" text-anchor="middle">Apr 2014</text>
<line x1="318.30" x2="318.30" y1="343.70" y2="345.00" stroke="#333" stroke-width="0.3"/>
<text transform="translate(318.30 348.02) rotate(0.01)" font-size="3.1" fill="#707070" stroke="#707070" style="stroke-width:0.08px" text-anchor="middle">Jul 2014</text>
<text transform="translate(258.20 352.02) rotate(0.01)" font-size="3.75" fill="#000" stroke="#000" style="stroke-width:0.08px" text-anchor="middle">Change Point Date</text>
<text transform="translate(184.02 268.00) rotate(-89.99)" font-size="3.75" fill="#000" stroke="#000" style="stroke-width:0.08px" text-anchor="middle">Mean Counts</text>
<text transform="translate(329.20 254.02) rotate(0.01)" font-size="3.75" fill="#000" stroke="#000" style="stroke-width:0.08px">Disease</text>
<line x1="330.50" x2="335.30" y1="259.00" y2="259.00" stroke="#F0BFBB" stroke-width="1.1"/>
<text transform="translate(337.30 261.02) rotate(0.01)" font-size="3.0" fill="#555">INFLA</text>
<line x1="330.50" x2="335.30" y1="264.83" y2="264.83" stroke="#D0D092" stroke-width="1.1"/>
<text transform="translate(337.30 267.02) rotate(0.01)" font-size="3.0" fill="#555">INFLB</text>
<line x1="330.50" x2="335.30" y1="270.66" y2="270.66" stroke="#92DAC1" stroke-width="1.1"/>
<text transform="translate(337.30 273.02) rotate(0.01)" font-size="3.0" fill="#555">RSV</text>
<line x1="330.50" x2="335.30" y1="276.49" y2="276.49" stroke="#92D5EF" stroke-width="1.1"/>
<text transform="translate(337.30 278.02) rotate(0.01)" font-size="3.0" fill="#555">HMPV</text>
<line x1="330.50" x2="335.30" y1="282.32" y2="282.32" stroke="#E9BAEE" stroke-width="1.1"/>
<text transform="translate(337.30 284.02) rotate(0.01)" font-size="3.0" fill="#555">RHINO</text>
<text transform="translate(264.50 363.02) rotate(0)" font-size="8.5" fill="#000" stroke="#000" style="stroke-width:0.25px" text-anchor="middle" font-family="Liberation Serif, serif" font-weight="bold">(j)</text>
</g>
<g>
<text transform="translate(13.80 372.02) rotate(0.01)" font-size="4.45" fill="#111" stroke="#111" style="stroke-width:0.1px">July 2014 - June 2015</text>
<rect x="13.90" y="374.30" width="131.10" height="151.40" fill="#EBEBEB"/>
<line x1="13.90" x2="145.00" y1="505.03" y2="505.03" stroke="#fff" stroke-width="0.2"/>
<line x1="13.90" x2="145.00" y1="477.50" y2="477.50" stroke="#fff" stroke-width="0.2"/>
<line x1="13.90" x2="145.00" y1="449.97" y2="449.97" stroke="#fff" stroke-width="0.2"/>
<line x1="13.90" x2="145.00" y1="422.44" y2="422.44" stroke="#fff" stroke-width="0.2"/>
<line x1="13.90" x2="145.00" y1="394.91" y2="394.91" stroke="#fff" stroke-width="0.2"/>
<line x1="33.35" x2="33.35" y1="374.30" y2="525.70" stroke="#fff" stroke-width="0.2"/>
<line x1="64.05" x2="64.05" y1="374.30" y2="525.70" stroke="#fff" stroke-width="0.2"/>
<line x1="94.42" x2="94.42" y1="374.30" y2="525.70" stroke="#fff" stroke-width="0.2"/>
<line x1="124.62" x2="124.62" y1="374.30" y2="525.70" stroke="#fff" stroke-width="0.2"/>
<line x1="13.90" x2="145.00" y1="518.80" y2="518.80" stroke="#fff" stroke-width="0.35"/>
<line x1="13.90" x2="145.00" y1="491.27" y2="491.27" stroke="#fff" stroke-width="0.35"/>
<line x1="13.90" x2="145.00" y1="463.74" y2="463.74" stroke="#fff" stroke-width="0.35"/>
<line x1="13.90" x2="145.00" y1="436.21" y2="436.21" stroke="#fff" stroke-width="0.35"/>
<line x1="13.90" x2="145.00" y1="408.68" y2="408.68" stroke="#fff" stroke-width="0.35"/>
<line x1="13.90" x2="145.00" y1="381.15" y2="381.15" stroke="#fff" stroke-width="0.35"/>
<line x1="18.00" x2="18.00" y1="374.30" y2="525.70" stroke="#fff" stroke-width="0.35"/>
<line x1="48.70" x2="48.70" y1="374.30" y2="525.70" stroke="#fff" stroke-width="0.35"/>
<line x1="79.40" x2="79.40" y1="374.30" y2="525.70" stroke="#fff" stroke-width="0.35"/>
<line x1="109.43" x2="109.43" y1="374.30" y2="525.70" stroke="#fff" stroke-width="0.35"/>
<line x1="139.80" x2="139.80" y1="374.30" y2="525.70" stroke="#fff" stroke-width="0.35"/>
<path d="M19.7 519.2 L20.3 519.2 L21.0 519.2 L21.6 519.2 L22.2 519.2 L22.8 519.2 L23.4 519.2 L24.0 519.2 L24.6 519.2 L25.2 519.2 L25.8 519.2 L26.4 519.2 L27.0 519.2 L27.6 519.2 L28.2 519.2 L28.8 519.2 L29.4 519.2 L30.0 519.2 L30.6 519.2 L31.2 519.2 L31.8 519.2 L32.4 519.2 L33.1 519.2 L33.7 519.2 L34.3 519.2 L34.9 519.2 L35.5 519.2 L36.1 519.2 L36.7 519.2 L37.3 519.2 L37.9 519.2 L38.5 519.2 L39.1 519.2 L39.7 519.2 L40.3 519.2 L40.9 519.2 L41.5 519.1 L42.1 519.1 L42.7 519.1 L43.3 519.1 L43.9 519.1 L44.6 519.1 L45.2 519.1 L45.8 519.1 L46.4 519.1 L47.0 519.1 L47.6 519.1 L48.2 519.1 L48.8 519.1 L49.4 519.1 L50.0 519.1 L50.6 519.1 L51.2 519.1 L51.9 519.0 L52.5 519.0 L53.1 519.0 L53.8 518.9 L54.4 518.9 L55.0 518.8 L55.7 518.7 L56.5 518.5 L57.2 518.3 L57.9 518.0 L58.5 517.7 L59.1 517.3 L59.7 516.9 L60.4 516.4 L61.0 515.8 L61.6 515.2 L62.2 514.5 L62.8 513.8 L63.4 513.0 L64.0 512.2 L64.7 511.2 L65.3 510.1 L65.9 508.8 L66.5 507.3 L67.2 505.0 L67.9 501.9 L68.6 497.9 L69.3 493.0 L69.9 487.0 L70.5 478.7 L71.2 465.5 L71.9 450.0 L72.6 432.3 L73.3 417.9 L74.0 410.8 L74.7 405.8 L75.4 400.7 L76.1 406.2 L76.9 411.7 L77.6 417.9 L78.3 424.9 L79.0 432.9 L79.7 441.4 L80.4 450.0 L81.0 457.3 L81.5 464.3 L82.2 472.3 L82.9 478.7 L83.6 483.3 L84.3 487.0 L85.1 490.2 L85.8 493.0 L86.4 495.3 L87.0 497.4 L87.7 499.5 L88.3 501.4 L88.9 503.1 L89.5 504.7 L90.2 506.1 L90.8 507.3 L91.4 508.4 L92.1 509.4 L92.7 510.4 L93.3 511.3 L94.0 512.1 L94.6 512.8 L95.2 513.5 L95.9 514.0 L96.5 514.5 L97.1 514.9 L97.7 515.2 L98.3 515.6 L98.9 515.9 L99.5 516.2 L100.1 516.4 L100.7 516.7 L101.3 516.9 L101.9 517.1 L102.5 517.3 L103.1 517.4 L103.7 517.5 L104.3 517.6 L104.9 517.7 L105.6 517.8 L106.2 517.8 L106.8 517.9 L107.4 518.0 L108.0 518.0 L108.7 518.1 L109.3 518.1 L109.9 518.2 L110.5 518.2 L111.1 518.2 L111.7 518.3 L112.4 518.3 L113.0 518.4 L113.6 518.4 L114.2 518.4 L114.8 518.5 L115.4 518.5 L116.0 518.6 L116.6 518.6 L117.2 518.6 L117.8 518.7 L118.4 518.7 L119.0 518.7 L119.6 518.8 L120.2 518.8 L120.8 518.8 L121.4 518.9 L122.0 518.9 L122.6 518.9 L123.2 518.9 L123.8 519.0 L124.4 519.0 L125.0 519.0 L125.6 519.0 L126.2 519.0 L126.8 519.0 L127.5 519.1 L128.1 519.1 L128.7 519.1 L129.3 519.1 L129.9 519.1 L130.5 519.1 L131.2 519.1 L131.8 519.1 L132.4 519.1 L133.0 519.1 L133.6 519.1 L134.2 519.1 L134.9 519.2 L135.5 519.2 L136.1 519.2 L136.7 519.2 L137.3 519.2 L137.9 519.2 L138.6 519.2" fill="none" stroke="#F2B0AC" stroke-width="1.0" stroke-linejoin="round"/>
<path d="M19.7 519.2 L20.3 519.2 L20.9 519.2 L21.5 519.2 L22.2 519.2 L22.8 519.2 L23.4 519.2 L24.0 519.2 L24.6 519.2 L25.2 519.2 L25.8 519.2 L26.4 519.2 L27.0 519.2 L27.6 519.2 L28.2 519.2 L28.8 519.2 L29.4 519.2 L30.0 519.2 L30.6 519.2 L31.2 519.2 L31.8 519.2 L32.4 519.2 L33.0 519.2 L33.6 519.2 L34.2 519.2 L34.8 519.2 L35.4 519.2 L36.0 519.2 L36.6 519.2 L37.2 519.2 L37.8 519.2 L38.4 519.2 L39.0 519.2 L39.6 519.2 L40.2 519.2 L40.8 519.2 L41.4 519.2 L42.0 519.2 L42.6 519.2 L43.2 519.1 L43.8 519.1 L44.4 519.1 L45.0 519.1 L45.7 519.1 L46.3 519.1 L46.9 519.1 L47.5 519.1 L48.1 519.1 L48.7 519.1 L49.3 519.1 L49.9 519.1 L50.5 519.1 L51.1 519.1 L51.7 519.1 L52.3 519.1 L52.9 519.1 L53.5 519.1 L54.1 519.1 L54.7 519.1 L55.3 519.1 L55.9 519.1 L56.5 519.1 L57.1 519.1 L57.7 519.1 L58.3 519.1 L58.9 519.1 L59.5 519.1 L60.1 519.1 L60.7 519.1 L61.3 519.1 L61.9 519.1 L62.5 519.1 L63.1 519.1 L63.7 519.1 L64.3 519.1 L64.9 519.1 L65.5 519.1 L66.1 519.1 L66.7 519.1 L67.3 519.1 L67.9 519.1 L68.6 519.1 L69.2 519.1 L69.8 519.1 L70.4 519.1 L71.0 519.1 L71.6 519.1 L72.2 519.1 L72.8 519.1 L73.4 519.0 L74.0 519.0 L74.6 519.0 L75.2 519.0 L75.8 519.0 L76.4 519.0 L77.0 519.0 L77.6 519.0 L78.2 519.0 L78.8 519.0 L79.4 519.0 L80.0 519.0 L80.6 519.0 L81.3 518.9 L81.9 518.9 L82.5 518.8 L83.2 518.8 L83.8 518.7 L84.4 518.6 L85.1 518.5 L85.7 518.4 L86.4 518.2 L87.0 518.1 L87.6 518.0 L88.3 517.9 L88.9 517.8 L89.5 517.7 L90.2 517.7 L90.8 517.6 L91.4 517.6 L92.0 517.5 L92.6 517.5 L93.2 517.4 L93.8 517.4 L94.4 517.4 L95.0 517.3 L95.6 517.2 L96.2 517.1 L96.8 517.0 L97.4 516.9 L98.0 516.8 L98.6 516.6 L99.2 516.5 L99.8 516.3 L100.4 516.2 L101.0 516.0 L101.6 515.9 L102.2 515.8 L102.8 515.7 L103.5 515.6 L104.1 515.4 L104.8 515.3 L105.4 515.2 L106.1 515.1 L106.7 515.0 L107.4 514.9 L108.0 514.9 L108.7 514.8 L109.3 514.8 L109.9 514.8 L110.5 514.8 L111.1 514.8 L111.7 514.8 L112.3 514.8 L112.9 514.8 L113.5 514.8 L114.1 514.8 L114.7 514.8 L115.4 514.8 L116.0 514.8 L116.6 514.8 L117.2 514.8 L117.8 514.8 L118.4 514.8 L119.0 514.8 L119.6 514.8 L120.2 514.8 L120.8 514.8 L121.5 515.0 L122.2 515.5 L123.0 516.0 L123.7 516.5 L124.3 516.9 L124.9 517.3 L125.5 517.7 L126.2 518.0 L126.8 518.4 L127.4 518.6 L128.0 518.7 L128.6 518.7 L129.2 518.8 L129.9 518.8 L130.5 518.8 L131.1 518.8 L131.7 518.9 L132.3 518.9 L133.0 518.9 L133.6 518.9 L134.2 518.9 L134.8 518.9 L135.5 518.9 L136.1 518.9 L136.7 519.0 L137.3 519.0 L137.9 519.0 L138.6 519.0" fill="none" stroke="#C7C876" stroke-width="1.0" stroke-linejoin="round"/>
<path d="M19.7 519.2 L20.3 519.2 L20.9 519.2 L21.5 519.2 L22.1 519.2 L22.7 519.2 L23.3 519.2 L23.9 519.2 L24.6 519.2 L25.2 519.2 L25.8 519.2 L26.4 519.2 L27.0 519.2 L27.6 519.2 L28.2 519.2 L28.8 519.2 L29.4 519.2 L30.0 519.2 L30.6 519.2 L31.2 519.2 L31.8 519.2 L32.4 519.2 L33.0 519.2 L33.6 519.2 L34.2 519.2 L34.8 519.2 L35.4 519.2 L36.0 519.2 L36.6 519.2 L37.2 519.1 L37.8 519.1 L38.4 519.1 L39.0 519.1 L39.6 519.1 L40.2 519.1 L40.8 519.1 L41.4 519.1 L42.0 519.1 L42.6 519.1 L43.2 519.1 L43.8 519.1 L44.4 519.1 L45.0 519.1 L45.6 519.1 L46.2 519.1 L46.8 519.1 L47.5 519.0 L48.1 519.0 L48.7 519.0 L49.3 519.0 L49.9 518.9 L50.5 518.9 L51.2 518.8 L51.8 518.8 L52.4 518.7 L53.0 518.7 L53.6 518.6 L54.2 518.6 L54.8 518.5 L55.5 518.4 L56.1 518.3 L56.7 518.2 L57.3 518.1 L57.9 518.0 L58.5 517.9 L59.1 517.7 L59.7 517.5 L60.4 517.3 L61.0 517.1 L61.6 516.9 L62.2 516.7 L62.8 516.4 L63.4 516.1 L64.0 515.8 L64.7 515.5 L65.3 515.2 L65.9 514.9 L66.5 514.5 L67.1 514.1 L67.8 513.6 L68.4 513.1 L69.1 512.6 L69.7 511.9 L70.4 511.3 L71.0 510.6 L71.7 509.8 L72.3 509.0 L73.0 508.2 L73.6 507.3 L74.2 506.4 L74.9 505.3 L75.5 504.2 L76.2 503.0 L76.8 501.7 L77.5 500.2 L78.1 498.6 L78.8 496.9 L79.4 495.0 L80.1 493.0 L80.8 490.3 L81.5 486.9 L82.2 482.9 L82.9 478.7 L83.5 474.7 L84.2 470.0 L84.8 464.3 L85.3 457.1 L85.8 450.0 L86.4 444.8 L87.1 440.7 L87.7 436.5 L88.2 431.7 L88.8 428.0 L89.3 426.1 L89.9 425.3 L90.5 425.3 L91.1 425.3 L91.7 425.3 L92.4 425.3 L93.0 425.3 L93.6 425.3 L94.2 425.3 L94.7 426.2 L95.2 428.0 L95.8 431.4 L96.3 436.5 L96.8 443.0 L97.3 450.0 L98.0 457.7 L98.7 464.3 L99.4 469.7 L100.1 474.4 L100.8 478.7 L101.4 482.1 L102.0 485.4 L102.6 488.4 L103.2 491.3 L103.8 494.0 L104.5 497.0 L105.2 499.9 L105.8 502.4 L106.5 504.4 L107.1 505.8 L107.7 507.0 L108.3 508.2 L109.0 509.1 L109.6 510.0 L110.2 510.8 L110.8 511.5 L111.4 512.1 L112.1 512.8 L112.7 513.3 L113.3 513.8 L114.0 514.3 L114.6 514.8 L115.2 515.1 L115.9 515.5 L116.5 515.8 L117.1 516.1 L117.7 516.3 L118.3 516.6 L118.9 516.8 L119.5 517.0 L120.1 517.2 L120.7 517.4 L121.3 517.6 L121.9 517.7 L122.5 517.8 L123.1 517.9 L123.7 518.0 L124.3 518.1 L124.9 518.1 L125.6 518.2 L126.2 518.2 L126.8 518.3 L127.4 518.3 L128.0 518.3 L128.7 518.4 L129.3 518.4 L129.9 518.4 L130.5 518.5 L131.1 518.5 L131.7 518.5 L132.4 518.5 L133.0 518.6 L133.6 518.6 L134.2 518.6 L134.8 518.6 L135.5 518.7 L136.1 518.7 L136.7 518.7 L137.3 518.7 L137.9 518.8 L138.6 518.8" fill="none" stroke="#76D5B4" stroke-width="1.0" stroke-linejoin="round"/>
<path d="M19.7 519.2 L20.3 519.2 L21.0 519.2 L21.6 519.2 L22.2 519.2 L22.8 519.2 L23.4 519.2 L24.0 519.2 L24.6 519.2 L25.2 519.2 L25.8 519.2 L26.4 519.2 L27.0 519.2 L27.6 519.2 L28.3 519.2 L28.9 519.2 L29.5 519.2 L30.1 519.2 L30.7 519.2 L31.3 519.2 L31.9 519.2 L32.5 519.2 L33.1 519.2 L33.7 519.2 L34.3 519.2 L34.9 519.2 L35.5 519.2 L36.2 519.2 L36.8 519.2 L37.4 519.2 L38.0 519.2 L38.6 519.2 L39.2 519.2 L39.8 519.2 L40.4 519.2 L41.0 519.2 L41.6 519.2 L42.2 519.2 L42.8 519.2 L43.4 519.2 L44.1 519.2 L44.7 519.2 L45.3 519.2 L45.9 519.2 L46.5 519.2 L47.1 519.2 L47.7 519.2 L48.3 519.2 L48.9 519.2 L49.5 519.2 L50.1 519.2 L50.7 519.2 L51.4 519.2 L52.0 519.2 L52.6 519.2 L53.2 519.2 L53.8 519.2 L54.4 519.2 L55.0 519.2 L55.6 519.2 L56.2 519.2 L56.8 519.2 L57.4 519.2 L58.1 519.2 L58.7 519.2 L59.3 519.1 L59.9 519.1 L60.5 519.1 L61.1 519.1 L61.7 519.1 L62.3 519.0 L62.9 519.0 L63.5 519.0 L64.2 519.0 L64.8 518.9 L65.4 518.9 L66.0 518.9 L66.6 518.8 L67.2 518.8 L67.8 518.8 L68.4 518.7 L69.0 518.7 L69.7 518.6 L70.3 518.6 L70.9 518.5 L71.5 518.5 L72.1 518.4 L72.7 518.4 L73.3 518.3 L73.9 518.3 L74.5 518.2 L75.2 518.2 L75.8 518.1 L76.4 518.1 L77.0 518.0 L77.6 517.9 L78.2 517.9 L78.8 517.8 L79.4 517.8 L80.0 517.7 L80.6 517.6 L81.3 517.6 L81.9 517.5 L82.5 517.4 L83.1 517.4 L83.7 517.3 L84.3 517.2 L85.0 517.1 L85.6 517.0 L86.2 516.9 L86.8 516.8 L87.5 516.6 L88.1 516.5 L88.7 516.3 L89.4 516.2 L90.0 516.0 L90.6 515.8 L91.2 515.7 L91.9 515.5 L92.5 515.3 L93.1 515.1 L93.8 514.9 L94.4 514.7 L95.0 514.4 L95.6 514.1 L96.2 513.7 L96.8 513.2 L97.4 512.8 L98.0 512.5 L98.7 512.2 L99.4 511.8 L100.0 511.5 L100.7 511.3 L101.4 511.2 L102.0 511.2 L102.6 511.2 L103.2 511.2 L103.8 511.2 L104.5 511.2 L105.1 511.2 L105.7 511.2 L106.3 511.2 L106.9 511.2 L107.5 511.2 L108.1 511.2 L108.7 511.2 L109.3 511.2 L110.0 511.2 L110.6 511.2 L111.2 511.2 L111.8 511.2 L112.4 511.2 L113.0 511.2 L113.6 511.2 L114.2 511.2 L114.8 511.2 L115.5 511.2 L116.1 511.2 L116.7 511.2 L117.3 511.2 L117.9 511.2 L118.5 511.2 L119.1 511.2 L119.7 511.2 L120.3 511.2 L120.9 511.2 L121.6 511.2 L122.2 511.2 L122.8 511.2 L123.4 511.2 L124.0 511.2 L124.6 511.2 L125.2 511.2 L125.8 511.2 L126.4 511.2 L127.1 511.2 L127.7 511.2 L128.3 511.2 L128.9 511.2 L129.5 511.2 L130.1 511.5 L130.7 512.4 L131.3 513.6 L131.9 514.9 L132.5 516.3 L133.1 517.5 L133.7 518.4 L134.3 518.7 L134.9 518.7 L135.5 518.7 L136.1 518.8 L136.7 518.8 L137.3 518.8 L138.0 518.8 L138.6 518.8" fill="none" stroke="#76CEF0" stroke-width="1.0" stroke-linejoin="round"/>
<path d="M19.7 508.4 L20.4 508.4 L21.0 508.4 L21.6 508.4 L22.3 508.4 L22.9 508.4 L23.5 508.4 L24.1 508.4 L24.8 508.4 L25.4 508.4 L26.0 508.4 L26.7 508.4 L27.3 508.4 L27.9 508.4 L28.5 508.4 L29.2 508.4 L29.8 508.4 L30.3 508.0 L30.8 507.2 L31.4 506.3 L32.1 505.4 L32.7 504.4 L33.4 503.4 L34.0 502.4 L34.6 501.3 L35.3 500.3 L35.9 499.2 L36.5 498.2 L37.2 497.2 L37.8 496.2 L38.5 495.3 L39.1 494.4 L39.6 493.6 L40.1 493.2 L40.7 493.2 L41.3 493.2 L41.9 493.2 L42.5 493.2 L43.1 493.2 L43.7 493.2 L44.3 493.2 L44.9 493.2 L45.5 493.2 L46.1 493.2 L46.7 493.2 L47.3 493.2 L47.9 493.2 L48.5 493.2 L49.2 493.2 L49.8 493.2 L50.4 493.2 L51.0 493.2 L51.6 493.2 L52.2 493.2 L52.8 493.2 L53.4 493.2 L54.0 493.2 L54.6 493.2 L55.2 493.2 L55.8 493.2 L56.4 493.2 L57.0 493.2 L57.6 493.2 L58.2 493.2 L58.8 493.2 L59.4 493.2 L60.0 493.2 L60.6 493.2 L61.2 493.2 L61.8 493.2 L62.4 493.2 L63.0 493.2 L63.6 493.2 L64.2 493.2 L64.8 493.2 L65.4 493.2 L66.1 493.2 L66.7 493.2 L67.3 493.2 L67.9 493.2 L68.5 493.2 L69.1 493.2 L69.7 493.2 L70.3 493.2 L70.9 493.2 L71.5 493.2 L72.1 493.2 L72.7 493.2 L73.3 493.2 L73.9 493.2 L74.5 493.2 L75.1 493.2 L75.7 493.2 L76.3 493.2 L76.9 493.2 L77.5 493.2 L78.1 493.2 L78.7 493.2 L79.3 493.2 L79.9 493.2 L80.5 493.2 L81.1 493.2 L81.7 493.2 L82.3 493.2 L82.9 493.2 L83.6 493.2 L84.2 493.2 L84.8 493.2 L85.4 493.2 L86.0 493.2 L86.6 493.3 L87.2 493.3 L87.8 493.3 L88.4 493.3 L89.0 493.3 L89.6 493.3 L90.2 493.3 L90.8 493.3 L91.4 493.3 L92.0 493.3 L92.6 493.3 L93.2 493.3 L93.8 493.3 L94.4 493.3 L95.0 493.3 L95.6 493.3 L96.2 493.3 L96.8 493.3 L97.4 493.3 L98.0 493.3 L98.6 493.3 L99.2 493.3 L99.8 493.3 L100.5 493.3 L101.1 493.3 L101.7 493.3 L102.3 493.3 L102.9 493.3 L103.5 493.3 L104.1 493.3 L104.7 493.3 L105.3 493.3 L105.9 493.3 L106.5 493.3 L107.1 493.3 L107.7 493.4 L108.3 493.4 L108.9 493.4 L109.5 493.4 L110.1 493.4 L110.7 493.4 L111.3 493.4 L111.9 493.4 L112.5 493.4 L113.1 493.4 L113.7 493.4 L114.3 493.4 L114.9 493.4 L115.5 493.4 L116.1 493.4 L116.7 493.4 L117.4 493.4 L118.0 493.4 L118.6 493.4 L119.2 493.4 L119.8 493.4 L120.4 493.4 L121.0 493.5 L121.6 493.5 L122.2 493.5 L122.8 493.5 L123.4 493.5 L124.0 493.5 L124.6 493.5 L125.2 493.5 L125.8 493.5 L126.7 493.8 L127.5 494.6 L128.1 495.7 L128.8 497.2 L129.4 498.6 L130.1 499.9 L130.8 501.2 L131.6 502.3 L132.3 503.4 L133.0 504.4 L133.7 505.3 L134.4 506.2 L135.1 507.1 L135.8 507.7 L136.5 508.0 L137.2 508.1 L137.9 508.1 L138.6 508.2" fill="none" stroke="#E9ABEF" stroke-width="1.0" stroke-linejoin="round"/>
<line x1="12.50" x2="13.90" y1="518.80" y2="518.80" stroke="#333" stroke-width="0.3"/>
<text transform="translate(11.90 521.02) rotate(0.01)" font-size="2.6" fill="#707070" stroke="#707070" style="stroke-width:0.08px" text-anchor="end">0</text>
<line x1="12.50" x2="13.90" y1="491.27" y2="491.27" stroke="#333" stroke-width="0.3"/>
<text transform="translate(11.90 493.02) rotate(0.01)" font-size="2.6" fill="#707070" stroke="#707070" style="stroke-width:0.08px" text-anchor="end">100</text>
<line x1="12.50" x2="13.90" y1="463.74" y2="463.74" stroke="#333" stroke-width="0.3"/>
<text transform="translate(11.90 466.02) rotate(0.01)" font-size="2.6" fill="#707070" stroke="#707070" style="stroke-width:0.08px" text-anchor="end">200</text>
<line x1="12.50" x2="13.90" y1="436.21" y2="436.21" stroke="#333" stroke-width="0.3"/>
<text transform="translate(11.90 438.02) rotate(0.01)" font-size="2.6" fill="#707070" stroke="#707070" style="stroke-width:0.08px" text-anchor="end">300</text>
<line x1="12.50" x2="13.90" y1="408.68" y2="408.68" stroke="#333" stroke-width="0.3"/>
<text transform="translate(11.90 411.02) rotate(0.01)" font-size="2.6" fill="#707070" stroke="#707070" style="stroke-width:0.08px" text-anchor="end">400</text>
<line x1="12.50" x2="13.90" y1="381.15" y2="381.15" stroke="#333" stroke-width="0.3"/>
<text transform="translate(11.90 383.02) rotate(0.01)" font-size="2.6" fill="#707070" stroke="#707070" style="stroke-width:0.08px" text-anchor="end">500</text>
<line x1="18.00" x2="18.00" y1="525.70" y2="527.00" stroke="#333" stroke-width="0.3"/>
<text transform="translate(18.00 530.02) rotate(0.01)" font-size="3.1" fill="#707070" stroke="#707070" style="stroke-width:0.08px" text-anchor="middle">Jul 2014</text>
<line x1="48.70" x2="48.70" y1="525.70" y2="527.00" stroke="#333" stroke-width="0.3"/>
<text transform="translate(48.70 530.02) rotate(0.01)" font-size="3.1" fill="#707070" stroke="#707070" style="stroke-width:0.08px" text-anchor="middle">Oct 2014</text>
<line x1="79.40" x2="79.40" y1="525.70" y2="527.00" stroke="#333" stroke-width="0.3"/>
<text transform="translate(79.40 530.02) rotate(0.01)" font-size="3.1" fill="#707070" stroke="#707070" style="stroke-width:0.08px" text-anchor="middle">Jan 2015</text>
<line x1="109.43" x2="109.43" y1="525.70" y2="527.00" stroke="#333" stroke-width="0.3"/>
<text transform="translate(109.43 530.02) rotate(0.01)" font-size="3.1" fill="#707070" stroke="#707070" style="stroke-width:0.08px" text-anchor="middle">Apr 2015</text>
<line x1="139.80" x2="139.80" y1="525.70" y2="527.00" stroke="#333" stroke-width="0.3"/>
<text transform="translate(139.80 530.02) rotate(0.01)" font-size="3.1" fill="#707070" stroke="#707070" style="stroke-width:0.08px" text-anchor="middle">Jul 2015</text>
<text transform="translate(79.45 534.02) rotate(0.01)" font-size="3.75" fill="#000" stroke="#000" style="stroke-width:0.08px" text-anchor="middle">Change Point Date</text>
<text transform="translate(6.02 450.00) rotate(-89.99)" font-size="3.75" fill="#000" stroke="#000" style="stroke-width:0.08px" text-anchor="middle">Mean Counts</text>
<text transform="translate(150.20 436.02) rotate(0.01)" font-size="3.75" fill="#000" stroke="#000" style="stroke-width:0.08px">Disease</text>
<line x1="151.50" x2="156.30" y1="441.00" y2="441.00" stroke="#F0BFBB" stroke-width="1.1"/>
<text transform="translate(158.30 443.02) rotate(0.01)" font-size="3.0" fill="#555">INFLA</text>
<line x1="151.50" x2="156.30" y1="446.83" y2="446.83" stroke="#D0D092" stroke-width="1.1"/>
<text transform="translate(158.30 449.02) rotate(0.01)" font-size="3.0" fill="#555">INFLB</text>
<line x1="151.50" x2="156.30" y1="452.66" y2="452.66" stroke="#92DAC1" stroke-width="1.1"/>
<text transform="translate(158.30 455.02) rotate(0.01)" font-size="3.0" fill="#555">RSV</text>
<line x1="151.50" x2="156.30" y1="458.49" y2="458.49" stroke="#92D5EF" stroke-width="1.1"/>
<text transform="translate(158.30 460.02) rotate(0.01)" font-size="3.0" fill="#555">HMPV</text>
<line x1="151.50" x2="156.30" y1="464.32" y2="464.32" stroke="#E9BAEE" stroke-width="1.1"/>
<text transform="translate(158.30 466.02) rotate(0.01)" font-size="3.0" fill="#555">RHINO</text>
<text transform="translate(86.00 545.02) rotate(0)" font-size="8.5" fill="#000" stroke="#000" style="stroke-width:0.25px" text-anchor="middle" font-family="Liberation Serif, serif" font-weight="bold">(k)</text>
</g>
<g>
<text transform="translate(192.30 373.02) rotate(0.01)" font-size="4.45" fill="#111" stroke="#111" style="stroke-width:0.1px">July 2015 - June 2016</text>
<rect x="192.40" y="374.50" width="131.60" height="151.40" fill="#EBEBEB"/>
<line x1="192.40" x2="324.00" y1="505.24" y2="505.24" stroke="#fff" stroke-width="0.2"/>
<line x1="192.40" x2="324.00" y1="477.70" y2="477.70" stroke="#fff" stroke-width="0.2"/>
<line x1="192.40" x2="324.00" y1="450.18" y2="450.18" stroke="#fff" stroke-width="0.2"/>
<line x1="192.40" x2="324.00" y1="422.64" y2="422.64" stroke="#fff" stroke-width="0.2"/>
<line x1="192.40" x2="324.00" y1="395.12" y2="395.12" stroke="#fff" stroke-width="0.2"/>
<line x1="212.75" x2="212.75" y1="374.50" y2="525.90" stroke="#fff" stroke-width="0.2"/>
<line x1="243.45" x2="243.45" y1="374.50" y2="525.90" stroke="#fff" stroke-width="0.2"/>
<line x1="273.98" x2="273.98" y1="374.50" y2="525.90" stroke="#fff" stroke-width="0.2"/>
<line x1="304.35" x2="304.35" y1="374.50" y2="525.90" stroke="#fff" stroke-width="0.2"/>
<line x1="192.40" x2="324.00" y1="519.00" y2="519.00" stroke="#fff" stroke-width="0.35"/>
<line x1="192.40" x2="324.00" y1="491.47" y2="491.47" stroke="#fff" stroke-width="0.35"/>
<line x1="192.40" x2="324.00" y1="463.94" y2="463.94" stroke="#fff" stroke-width="0.35"/>
<line x1="192.40" x2="324.00" y1="436.41" y2="436.41" stroke="#fff" stroke-width="0.35"/>
<line x1="192.40" x2="324.00" y1="408.88" y2="408.88" stroke="#fff" stroke-width="0.35"/>
<line x1="192.40" x2="324.00" y1="381.35" y2="381.35" stroke="#fff" stroke-width="0.35"/>
<line x1="197.40" x2="197.40" y1="374.50" y2="525.90" stroke="#fff" stroke-width="0.35"/>
<line x1="228.10" x2="228.10" y1="374.50" y2="525.90" stroke="#fff" stroke-width="0.35"/>
<line x1="258.80" x2="258.80" y1="374.50" y2="525.90" stroke="#fff" stroke-width="0.35"/>
<line x1="289.17" x2="289.17" y1="374.50" y2="525.90" stroke="#fff" stroke-width="0.35"/>
<line x1="319.53" x2="319.53" y1="374.50" y2="525.90" stroke="#fff" stroke-width="0.35"/>
<path d="M198.5 519.2 L199.1 519.2 L199.7 519.2 L200.3 519.2 L200.9 519.2 L201.5 519.2 L202.1 519.2 L202.7 519.2 L203.3 519.2 L204.0 519.2 L204.6 519.2 L205.2 519.2 L205.8 519.2 L206.4 519.2 L207.0 519.2 L207.6 519.2 L208.2 519.2 L208.8 519.2 L209.4 519.2 L210.0 519.2 L210.6 519.2 L211.2 519.2 L211.8 519.2 L212.4 519.2 L213.0 519.2 L213.6 519.2 L214.3 519.2 L214.9 519.2 L215.5 519.2 L216.1 519.2 L216.7 519.2 L217.3 519.2 L217.9 519.2 L218.5 519.2 L219.1 519.2 L219.7 519.2 L220.3 519.2 L220.9 519.2 L221.5 519.2 L222.1 519.2 L222.7 519.2 L223.3 519.2 L223.9 519.2 L224.6 519.2 L225.2 519.2 L225.8 519.2 L226.4 519.2 L227.0 519.2 L227.6 519.2 L228.2 519.2 L228.8 519.2 L229.4 519.2 L230.0 519.2 L230.6 519.2 L231.2 519.2 L231.8 519.2 L232.4 519.2 L233.0 519.1 L233.6 519.1 L234.2 519.1 L234.9 519.1 L235.5 519.1 L236.1 519.1 L236.7 519.1 L237.3 519.1 L237.9 519.1 L238.5 519.1 L239.1 519.1 L239.7 519.1 L240.3 519.1 L240.9 519.1 L241.5 519.1 L242.1 519.1 L242.7 519.1 L243.3 519.1 L243.9 519.1 L244.5 519.1 L245.2 519.1 L245.8 519.1 L246.4 519.1 L247.0 519.1 L247.6 519.1 L248.2 519.1 L248.8 519.1 L249.4 519.1 L250.0 519.1 L250.6 519.1 L251.2 519.1 L251.8 519.1 L252.4 519.1 L253.0 519.1 L253.6 519.1 L254.3 519.1 L254.9 519.1 L255.5 519.1 L256.1 519.0 L256.7 519.0 L257.3 519.0 L257.9 519.0 L258.5 518.9 L259.1 518.5 L259.7 518.0 L260.4 517.3 L261.0 516.6 L261.6 515.8 L262.2 515.1 L262.9 514.3 L263.6 513.4 L264.2 512.4 L264.9 511.3 L265.6 510.0 L266.3 508.3 L267.1 506.3 L267.8 503.9 L268.5 501.2 L269.1 497.9 L269.8 494.2 L270.4 490.2 L270.8 487.5 L271.2 485.0 L271.7 482.2 L272.2 480.0 L272.9 477.5 L273.7 475.8 L274.4 474.7 L275.1 473.8 L275.8 473.1 L276.5 472.9 L277.1 472.9 L277.8 472.9 L278.4 472.9 L279.0 472.9 L279.6 472.9 L280.3 472.9 L280.9 472.9 L281.5 472.9 L282.2 472.9 L282.8 472.9 L283.4 473.4 L284.1 474.8 L284.7 476.7 L285.3 478.8 L285.9 481.7 L286.5 485.6 L287.1 489.2 L287.8 492.7 L288.4 496.1 L289.1 498.9 L289.7 501.1 L290.3 503.1 L291.0 504.9 L291.6 506.4 L292.2 507.7 L292.8 508.8 L293.5 509.9 L294.1 510.8 L294.8 511.7 L295.4 512.4 L296.0 513.1 L296.7 513.7 L297.3 514.2 L297.9 514.6 L298.5 515.0 L299.2 515.4 L299.8 515.7 L300.4 516.1 L301.0 516.4 L301.6 516.7 L302.3 516.9 L302.9 517.2 L303.5 517.4 L304.1 517.6 L304.8 517.7 L305.4 517.9 L306.0 518.0 L306.6 518.1 L307.2 518.2 L307.8 518.3 L308.5 518.3 L309.1 518.4 L309.7 518.5 L310.3 518.5 L310.9 518.6 L311.5 518.6 L312.2 518.7 L312.8 518.7 L313.4 518.8 L314.0 518.8 L314.6 518.8 L315.2 518.9 L315.9 518.9 L316.5 519.0 L317.1 519.0 L317.7 519.1" fill="none" stroke="#F2B0AC" stroke-width="1.0" stroke-linejoin="round"/>
<path d="M198.5 519.2 L199.1 519.2 L199.7 519.2 L200.3 519.2 L200.9 519.2 L201.5 519.2 L202.2 519.2 L202.8 519.2 L203.4 519.2 L204.0 519.2 L204.6 519.2 L205.2 519.2 L205.8 519.2 L206.4 519.2 L207.0 519.2 L207.6 519.2 L208.2 519.2 L208.8 519.2 L209.4 519.2 L210.1 519.2 L210.7 519.2 L211.3 519.2 L211.9 519.2 L212.5 519.2 L213.1 519.2 L213.7 519.2 L214.3 519.2 L214.9 519.2 L215.5 519.2 L216.1 519.2 L216.8 519.2 L217.4 519.2 L218.0 519.2 L218.6 519.2 L219.2 519.2 L219.8 519.2 L220.4 519.2 L221.0 519.1 L221.6 519.1 L222.2 519.1 L222.8 519.1 L223.4 519.1 L224.1 519.1 L224.7 519.1 L225.3 519.1 L225.9 519.1 L226.5 519.1 L227.1 519.1 L227.7 519.1 L228.3 519.1 L228.9 519.1 L229.5 519.1 L230.1 519.1 L230.7 519.1 L231.3 519.1 L232.0 519.1 L232.6 519.1 L233.2 519.1 L233.8 519.1 L234.4 519.1 L235.0 519.1 L235.6 519.1 L236.2 519.1 L236.9 519.1 L237.5 519.1 L238.1 519.1 L238.8 519.1 L239.4 519.1 L240.0 519.1 L240.6 519.1 L241.2 519.1 L241.9 519.0 L242.5 519.0 L243.1 519.0 L243.8 519.0 L244.4 519.0 L245.0 519.0 L245.6 519.0 L246.2 518.9 L246.8 518.9 L247.5 518.8 L248.1 518.8 L248.7 518.7 L249.3 518.6 L249.9 518.5 L250.5 518.4 L251.1 518.2 L251.8 518.1 L252.4 518.0 L253.0 517.8 L253.6 517.7 L254.2 517.5 L254.9 517.3 L255.5 517.1 L256.1 516.9 L256.7 516.6 L257.4 516.3 L258.0 515.9 L258.6 515.5 L259.2 515.1 L259.9 514.7 L260.5 514.2 L261.2 513.5 L261.9 512.7 L262.5 511.7 L263.2 510.4 L263.9 509.1 L264.6 507.2 L265.4 504.8 L266.1 502.2 L267.0 499.0 L267.8 495.3 L268.5 491.8 L269.1 488.4 L269.6 486.8 L270.0 485.0 L270.3 482.4 L270.6 480.0 L271.1 478.3 L271.5 477.6 L272.2 477.6 L272.8 477.6 L273.5 477.5 L274.1 477.5 L274.8 477.5 L275.4 477.5 L276.1 477.5 L276.7 477.5 L277.4 477.5 L278.0 477.5 L278.7 477.5 L279.1 477.9 L279.5 479.0 L280.1 483.6 L280.6 489.0 L281.4 493.2 L282.2 496.5 L283.0 499.2 L283.7 501.4 L284.4 503.5 L285.1 505.4 L285.8 507.0 L286.5 508.3 L287.1 509.3 L287.8 510.2 L288.4 511.1 L289.1 511.9 L289.7 512.6 L290.3 513.2 L291.0 513.7 L291.6 514.2 L292.2 514.6 L292.9 515.0 L293.5 515.4 L294.2 515.7 L294.8 516.1 L295.5 516.4 L296.1 516.7 L296.8 516.9 L297.4 517.2 L298.1 517.4 L298.7 517.6 L299.4 517.7 L300.0 517.8 L300.6 517.9 L301.2 518.0 L301.8 518.0 L302.4 518.1 L303.1 518.2 L303.7 518.2 L304.3 518.3 L304.9 518.3 L305.5 518.4 L306.1 518.4 L306.7 518.5 L307.3 518.5 L307.9 518.5 L308.5 518.6 L309.2 518.6 L309.8 518.6 L310.4 518.7 L311.0 518.7 L311.6 518.7 L312.2 518.8 L312.8 518.8 L313.4 518.8 L314.0 518.9 L314.6 518.9 L315.3 518.9 L315.9 519.0 L316.5 519.0 L317.1 519.1 L317.7 519.1" fill="none" stroke="#C7C876" stroke-width="1.0" stroke-linejoin="round"/>
<path d="M198.5 519.2 L199.1 519.2 L199.7 519.2 L200.3 519.2 L200.9 519.2 L201.5 519.2 L202.1 519.2 L202.7 519.2 L203.3 519.2 L203.9 519.2 L204.5 519.2 L205.1 519.2 L205.7 519.2 L206.3 519.2 L206.9 519.2 L207.5 519.1 L208.1 519.1 L208.7 519.1 L209.3 519.1 L209.9 519.1 L210.5 519.1 L211.1 519.1 L211.8 519.1 L212.4 519.1 L213.0 519.1 L213.6 519.1 L214.2 519.1 L214.8 519.1 L215.4 519.1 L216.0 519.1 L216.6 519.1 L217.2 519.1 L217.8 519.1 L218.4 519.1 L219.0 519.1 L219.6 519.1 L220.2 519.1 L220.8 519.1 L221.4 519.0 L222.0 519.0 L222.6 519.0 L223.2 519.0 L223.8 519.0 L224.4 519.0 L225.0 519.0 L225.6 519.0 L226.2 519.0 L226.9 519.0 L227.5 518.9 L228.1 518.9 L228.8 518.9 L229.4 518.8 L230.0 518.8 L230.6 518.8 L231.2 518.7 L231.9 518.7 L232.5 518.6 L233.1 518.6 L233.8 518.5 L234.4 518.5 L235.0 518.4 L235.6 518.3 L236.2 518.2 L236.9 518.1 L237.5 517.9 L238.1 517.8 L238.8 517.6 L239.4 517.3 L240.0 517.1 L240.6 516.9 L241.2 516.6 L241.9 516.4 L242.5 516.1 L243.1 515.9 L243.8 515.6 L244.4 515.4 L245.0 515.1 L245.6 514.9 L246.2 514.6 L246.8 514.4 L247.5 514.1 L248.1 513.8 L248.7 513.6 L249.3 513.3 L249.9 513.0 L250.5 512.7 L251.1 512.3 L251.8 512.0 L252.4 511.6 L253.0 511.2 L253.6 510.8 L254.2 510.4 L254.8 509.9 L255.4 509.3 L256.1 508.7 L256.7 508.1 L257.3 507.3 L257.9 506.5 L258.5 505.4 L259.2 503.9 L259.9 502.2 L260.5 500.5 L261.1 498.7 L261.8 496.8 L262.4 494.8 L263.0 492.7 L263.7 490.2 L264.5 487.5 L265.2 485.0 L265.9 482.8 L266.5 481.0 L267.2 479.6 L268.0 478.8 L268.5 478.7 L269.0 478.6 L269.6 478.6 L270.2 478.6 L270.8 478.6 L271.4 478.6 L272.1 478.6 L272.7 478.6 L273.3 478.6 L273.9 478.6 L274.5 478.6 L275.1 478.6 L275.7 478.6 L276.3 478.6 L276.9 478.6 L277.6 478.6 L278.2 478.6 L278.8 478.6 L279.4 478.6 L280.0 478.6 L280.7 480.0 L281.3 483.2 L282.0 486.5 L282.7 490.1 L283.5 493.8 L284.2 497.0 L284.8 499.1 L285.5 501.0 L286.1 502.7 L286.8 504.2 L287.4 505.6 L288.1 506.9 L288.7 508.2 L289.4 509.4 L290.0 510.5 L290.7 511.5 L291.3 512.3 L292.0 513.0 L292.6 513.5 L293.2 514.1 L293.9 514.6 L294.5 515.0 L295.1 515.5 L295.8 515.9 L296.4 516.2 L297.0 516.6 L297.6 516.8 L298.2 517.1 L298.9 517.3 L299.5 517.4 L300.1 517.5 L300.7 517.6 L301.3 517.7 L301.9 517.8 L302.5 517.9 L303.1 517.9 L303.7 518.0 L304.4 518.1 L305.0 518.1 L305.6 518.2 L306.2 518.3 L306.8 518.3 L307.4 518.4 L308.0 518.4 L308.6 518.4 L309.2 518.5 L309.8 518.5 L310.4 518.6 L311.0 518.6 L311.6 518.6 L312.2 518.7 L312.8 518.7 L313.5 518.8 L314.1 518.8 L314.7 518.9 L315.3 518.9 L315.9 518.9 L316.5 519.0 L317.1 519.0 L317.7 519.1" fill="none" stroke="#76D5B4" stroke-width="1.0" stroke-linejoin="round"/>
<path d="M198.5 519.2 L199.1 519.2 L199.7 519.2 L200.3 519.2 L200.9 519.2 L201.5 519.2 L202.1 519.2 L202.7 519.2 L203.3 519.2 L204.0 519.2 L204.6 519.2 L205.2 519.2 L205.8 519.2 L206.4 519.2 L207.0 519.2 L207.6 519.2 L208.2 519.2 L208.8 519.1 L209.4 519.1 L210.0 519.1 L210.6 519.1 L211.2 519.1 L211.8 519.1 L212.4 519.1 L213.0 519.1 L213.6 519.1 L214.2 519.1 L214.9 519.1 L215.5 519.1 L216.1 519.1 L216.7 519.1 L217.3 519.1 L217.9 519.1 L218.5 519.1 L219.1 519.1 L219.7 519.1 L220.3 519.1 L220.9 519.1 L221.5 519.1 L222.1 519.1 L222.7 519.1 L223.3 519.1 L223.9 519.1 L224.5 519.1 L225.2 519.1 L225.8 519.0 L226.4 519.0 L227.0 519.0 L227.6 519.0 L228.2 519.0 L228.8 519.0 L229.4 519.0 L230.0 519.0 L230.6 519.0 L231.2 519.0 L231.9 519.0 L232.5 519.0 L233.1 518.9 L233.8 518.9 L234.4 518.9 L235.0 518.9 L235.6 518.8 L236.2 518.8 L236.9 518.8 L237.5 518.8 L238.1 518.7 L238.8 518.7 L239.4 518.6 L240.0 518.6 L240.6 518.5 L241.2 518.5 L241.9 518.4 L242.5 518.3 L243.1 518.1 L243.8 518.0 L244.4 517.8 L245.0 517.7 L245.6 517.5 L246.2 517.4 L246.8 517.2 L247.5 517.0 L248.1 516.8 L248.7 516.5 L249.3 516.3 L249.9 516.0 L250.5 515.8 L251.1 515.5 L251.8 515.2 L252.4 514.9 L253.0 514.5 L253.6 514.2 L254.2 513.8 L254.9 513.4 L255.6 512.9 L256.2 512.4 L256.9 511.9 L257.5 511.3 L258.2 510.7 L258.8 510.0 L259.5 509.2 L260.2 508.2 L260.8 507.1 L261.5 505.9 L262.2 504.8 L262.9 503.6 L263.6 502.2 L264.2 500.9 L264.9 499.7 L265.6 498.8 L266.3 498.0 L267.1 497.3 L267.8 497.0 L268.4 497.0 L269.0 497.0 L269.6 497.0 L270.2 497.0 L270.8 497.0 L271.5 497.0 L272.1 497.0 L272.7 497.0 L273.3 497.0 L273.9 497.0 L274.5 497.0 L275.1 497.0 L275.8 497.3 L276.5 498.0 L277.3 499.0 L278.0 500.2 L278.7 501.5 L279.4 503.0 L280.0 504.5 L280.7 505.8 L281.4 507.0 L282.1 508.1 L282.8 509.1 L283.5 510.0 L284.1 510.8 L284.7 511.5 L285.3 512.3 L285.9 513.0 L286.6 513.6 L287.2 514.2 L287.8 514.7 L288.4 515.2 L289.0 515.5 L289.6 515.8 L290.2 516.0 L290.8 516.2 L291.4 516.5 L292.1 516.7 L292.7 516.9 L293.3 517.1 L293.9 517.2 L294.5 517.4 L295.1 517.5 L295.7 517.7 L296.3 517.8 L296.9 517.9 L297.6 518.0 L298.2 518.1 L298.8 518.2 L299.4 518.2 L300.0 518.3 L300.6 518.3 L301.2 518.4 L301.8 518.4 L302.4 518.5 L303.1 518.5 L303.7 518.5 L304.3 518.6 L304.9 518.6 L305.5 518.6 L306.1 518.7 L306.7 518.7 L307.3 518.7 L307.9 518.7 L308.5 518.8 L309.2 518.8 L309.8 518.8 L310.4 518.8 L311.0 518.9 L311.6 518.9 L312.2 518.9 L312.8 518.9 L313.4 518.9 L314.0 519.0 L314.6 519.0 L315.3 519.0 L315.9 519.0 L316.5 519.0 L317.1 519.1 L317.7 519.1" fill="none" stroke="#76CEF0" stroke-width="1.0" stroke-linejoin="round"/>
<path d="M198.5 504.0 L199.1 504.0 L199.7 504.0 L200.3 504.0 L200.9 504.0 L201.5 504.0 L202.1 504.0 L202.7 504.0 L203.3 504.0 L203.9 504.0 L204.6 504.0 L205.2 504.0 L205.8 504.0 L206.4 504.0 L207.0 504.0 L207.6 504.0 L208.2 504.0 L208.8 504.0 L209.4 504.0 L210.0 504.0 L210.6 504.0 L211.2 504.0 L211.8 504.0 L212.4 504.0 L213.0 504.0 L213.6 504.0 L214.2 504.0 L214.8 504.0 L215.4 504.0 L216.0 504.0 L216.7 504.0 L217.3 504.0 L217.9 504.0 L218.5 504.0 L219.1 504.0 L219.7 504.0 L220.3 504.0 L220.9 504.0 L221.5 504.0 L222.1 504.0 L222.7 504.0 L223.3 504.0 L223.9 504.0 L224.5 504.0 L225.1 504.0 L225.7 504.0 L226.3 504.0 L226.9 504.0 L227.5 504.0 L228.2 504.0 L228.8 504.0 L229.4 504.0 L230.0 504.0 L230.6 504.0 L231.2 504.0 L231.8 504.0 L232.4 504.0 L233.0 504.0 L233.6 504.0 L234.2 504.0 L234.8 504.0 L235.4 504.0 L236.0 504.0 L236.6 504.0 L237.2 504.0 L237.8 504.0 L238.4 504.0 L239.0 504.0 L239.7 504.0 L240.3 504.0 L240.9 504.0 L241.5 504.0 L242.1 504.0 L242.7 504.0 L243.3 504.0 L243.9 504.0 L244.5 504.0 L245.1 504.0 L245.7 504.0 L246.3 504.0 L246.9 504.0 L247.5 504.0 L248.1 504.0 L248.7 504.0 L249.3 504.0 L249.9 504.0 L250.5 504.0 L251.1 504.0 L251.8 504.0 L252.4 504.0 L253.0 504.0 L253.6 504.0 L254.2 504.0 L254.8 504.0 L255.4 504.0 L256.0 504.0 L256.6 504.0 L257.2 504.0 L257.9 503.7 L258.5 503.3 L259.1 503.0 L259.7 502.6 L260.3 502.3 L260.9 501.9 L261.5 501.5 L262.1 501.2 L262.7 500.8 L263.3 500.4 L263.9 500.0 L264.5 499.6 L265.1 499.3 L265.7 498.9 L266.3 498.5 L266.9 498.1 L267.5 497.7 L268.1 497.3 L268.7 496.9 L269.3 496.5 L269.9 496.1 L270.5 495.7 L271.1 495.3 L271.7 494.9 L272.3 494.5 L272.9 494.1 L273.5 493.8 L274.1 493.4 L274.7 493.0 L275.3 492.6 L275.9 492.2 L276.5 491.9 L277.1 491.5 L277.7 491.1 L278.3 490.8 L278.9 490.4 L279.5 490.1 L280.1 489.7 L280.8 489.4 L281.4 489.4 L282.0 489.4 L282.6 489.4 L283.2 489.4 L283.8 489.4 L284.4 489.4 L285.0 489.4 L285.6 489.4 L286.2 489.4 L286.8 489.4 L287.4 489.4 L288.0 489.4 L288.6 489.4 L289.2 489.4 L289.8 489.4 L290.4 489.4 L291.1 489.4 L291.7 489.4 L292.3 489.4 L292.9 489.4 L293.5 489.4 L294.1 489.4 L294.7 489.4 L295.3 489.4 L295.9 489.4 L296.5 489.4 L297.1 489.4 L297.7 489.4 L298.3 489.4 L298.9 489.4 L299.5 489.4 L300.1 489.4 L300.7 489.4 L301.3 489.4 L301.8 489.8 L302.3 490.6 L302.9 491.5 L303.6 492.4 L304.2 493.5 L304.8 494.5 L305.5 495.6 L306.1 496.8 L306.7 497.9 L307.4 499.0 L308.0 500.0 L308.6 501.1 L309.3 502.0 L309.9 502.9 L310.4 503.7 L310.9 504.1 L311.5 504.1 L312.1 504.1 L312.8 504.1 L313.4 504.1 L314.0 504.1 L314.6 504.1 L315.2 504.1 L315.8 504.1 L316.5 504.1 L317.1 504.1 L317.7 504.1" fill="none" stroke="#E9ABEF" stroke-width="1.0" stroke-linejoin="round"/>
<line x1="191.00" x2="192.40" y1="519.00" y2="519.00" stroke="#333" stroke-width="0.3"/>
<text transform="translate(190.40 521.02) rotate(0.01)" font-size="2.6" fill="#707070" stroke="#707070" style="stroke-width:0.08px" text-anchor="end">0</text>
<line x1="191.00" x2="192.40" y1="491.47" y2="491.47" stroke="#333" stroke-width="0.3"/>
<text transform="translate(190.40 493.02) rotate(0.01)" font-size="2.6" fill="#707070" stroke="#707070" style="stroke-width:0.08px" text-anchor="end">100</text>
<line x1="191.00" x2="192.40" y1="463.94" y2="463.94" stroke="#333" stroke-width="0.3"/>
<text transform="translate(190.40 466.02) rotate(0.01)" font-size="2.6" fill="#707070" stroke="#707070" style="stroke-width:0.08px" text-anchor="end">200</text>
<line x1="191.00" x2="192.40" y1="436.41" y2="436.41" stroke="#333" stroke-width="0.3"/>
<text transform="translate(190.40 438.02) rotate(0.01)" font-size="2.6" fill="#707070" stroke="#707070" style="stroke-width:0.08px" text-anchor="end">300</text>
<line x1="191.00" x2="192.40" y1="408.88" y2="408.88" stroke="#333" stroke-width="0.3"/>
<text transform="translate(190.40 411.02) rotate(0.01)" font-size="2.6" fill="#707070" stroke="#707070" style="stroke-width:0.08px" text-anchor="end">400</text>
<line x1="191.00" x2="192.40" y1="381.35" y2="381.35" stroke="#333" stroke-width="0.3"/>
<text transform="translate(190.40 383.02) rotate(0.01)" font-size="2.6" fill="#707070" stroke="#707070" style="stroke-width:0.08px" text-anchor="end">500</text>
<line x1="197.40" x2="197.40" y1="525.90" y2="527.20" stroke="#333" stroke-width="0.3"/>
<text transform="translate(197.40 530.02) rotate(0.01)" font-size="3.1" fill="#707070" stroke="#707070" style="stroke-width:0.08px" text-anchor="middle">Jul 2015</text>
<line x1="228.10" x2="228.10" y1="525.90" y2="527.20" stroke="#333" stroke-width="0.3"/>
<text transform="translate(228.10 530.02) rotate(0.01)" font-size="3.1" fill="#707070" stroke="#707070" style="stroke-width:0.08px" text-anchor="middle">Oct 2015</text>
<line x1="258.80" x2="258.80" y1="525.90" y2="527.20" stroke="#333" stroke-width="0.3"/>
<text transform="translate(258.80 530.02) rotate(0.01)" font-size="3.1" fill="#707070" stroke="#707070" style="stroke-width:0.08px" text-anchor="middle">Jan 2016</text>
<line x1="289.17" x2="289.17" y1="525.90" y2="527.20" stroke="#333" stroke-width="0.3"/>
<text transform="translate(289.17 530.02) rotate(0.01)" font-size="3.1" fill="#707070" stroke="#707070" style="stroke-width:0.08px" text-anchor="middle">Apr 2016</text>
<line x1="319.53" x2="319.53" y1="525.90" y2="527.20" stroke="#333" stroke-width="0.3"/>
<text transform="translate(319.53 530.02) rotate(0.01)" font-size="3.1" fill="#707070" stroke="#707070" style="stroke-width:0.08px" text-anchor="middle">Jul 2016</text>
<text transform="translate(258.20 534.02) rotate(0.01)" font-size="3.75" fill="#000" stroke="#000" style="stroke-width:0.08px" text-anchor="middle">Change Point Date</text>
<text transform="translate(184.02 450.20) rotate(-89.99)" font-size="3.75" fill="#000" stroke="#000" style="stroke-width:0.08px" text-anchor="middle">Mean Counts</text>
<text transform="translate(329.20 436.02) rotate(0.01)" font-size="3.75" fill="#000" stroke="#000" style="stroke-width:0.08px">Disease</text>
<line x1="330.50" x2="335.30" y1="441.20" y2="441.20" stroke="#F0BFBB" stroke-width="1.1"/>
<text transform="translate(337.30 443.02) rotate(0.01)" font-size="3.0" fill="#555">INFLA</text>
<line x1="330.50" x2="335.30" y1="447.03" y2="447.03" stroke="#D0D092" stroke-width="1.1"/>
<text transform="translate(337.30 449.02) rotate(0.01)" font-size="3.0" fill="#555">INFLB</text>
<line x1="330.50" x2="335.30" y1="452.86" y2="452.86" stroke="#92DAC1" stroke-width="1.1"/>
<text transform="translate(337.30 455.02) rotate(0.01)" font-size="3.0" fill="#555">RSV</text>
<line x1="330.50" x2="335.30" y1="458.69" y2="458.69" stroke="#92D5EF" stroke-width="1.1"/>
<text transform="translate(337.30 461.02) rotate(0.01)" font-size="3.0" fill="#555">HMPV</text>
<line x1="330.50" x2="335.30" y1="464.52" y2="464.52" stroke="#E9BAEE" stroke-width="1.1"/>
<text transform="translate(337.30 466.02) rotate(0.01)" font-size="3.0" fill="#555">RHINO</text>
<text transform="translate(264.50 545.02) rotate(0)" font-size="8.5" fill="#000" stroke="#000" style="stroke-width:0.25px" text-anchor="middle" font-family="Liberation Serif, serif" font-weight="bold">(l)</text>
</g>
</svg>
</body></html>
